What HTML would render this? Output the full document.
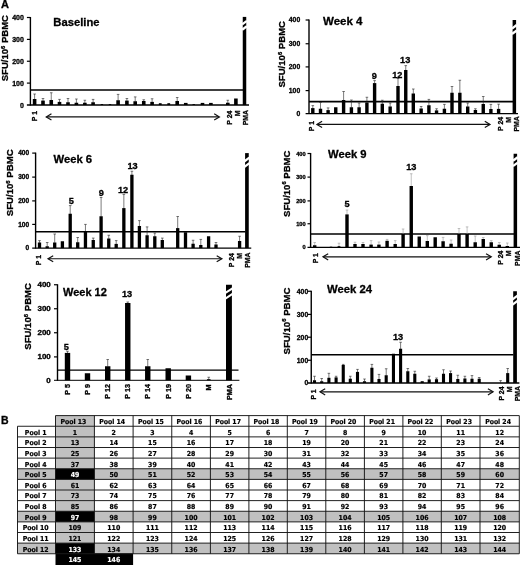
<!DOCTYPE html>
<html lang="en"><head><meta charset="utf-8"><title>Figure</title>
<style>
html,body{margin:0;padding:0;background:#fff;}
body{width:520px;height:565px;overflow:hidden;}
svg{display:block;}
text{white-space:pre;}
</style></head><body>
<svg width="520" height="565" viewBox="0 0 520 565">
<rect x="0" y="0" width="520" height="565" fill="#fff"/>
<text x="0.90" y="8.30" font-size="11" font-family='"Liberation Sans", sans-serif' font-weight="bold" fill="#000" stroke="#000" stroke-width="0.3">A</text>
<text x="1.00" y="423.80" font-size="10.5" font-family='"Liberation Sans", sans-serif' font-weight="bold" fill="#000" stroke="#000" stroke-width="0.3">B</text>
<line x1="30.40" y1="17.00" x2="30.40" y2="105.50" stroke="#000" stroke-width="1.4" />
<line x1="26.90" y1="105.00" x2="249.00" y2="105.00" stroke="#000" stroke-width="1.4" />
<line x1="26.90" y1="17.50" x2="30.40" y2="17.50" stroke="#000" stroke-width="1.2" />
<text x="23.90" y="20.02" font-size="7.0" font-family='"Liberation Sans", sans-serif' font-weight="bold" fill="#000" stroke="#000" stroke-width="0.3" text-anchor="end">400</text>
<line x1="26.90" y1="39.40" x2="30.40" y2="39.40" stroke="#000" stroke-width="1.2" />
<text x="23.90" y="41.92" font-size="7.0" font-family='"Liberation Sans", sans-serif' font-weight="bold" fill="#000" stroke="#000" stroke-width="0.3" text-anchor="end">300</text>
<line x1="26.90" y1="61.25" x2="30.40" y2="61.25" stroke="#000" stroke-width="1.2" />
<text x="23.90" y="63.77" font-size="7.0" font-family='"Liberation Sans", sans-serif' font-weight="bold" fill="#000" stroke="#000" stroke-width="0.3" text-anchor="end">200</text>
<line x1="26.90" y1="83.10" x2="30.40" y2="83.10" stroke="#000" stroke-width="1.2" />
<text x="23.90" y="85.62" font-size="7.0" font-family='"Liberation Sans", sans-serif' font-weight="bold" fill="#000" stroke="#000" stroke-width="0.3" text-anchor="end">100</text>
<text x="23.90" y="107.52" font-size="7.0" font-family='"Liberation Sans", sans-serif' font-weight="bold" fill="#000" stroke="#000" stroke-width="0.3" text-anchor="end">0</text>
<text x="7.90" y="81.25" font-size="9.8" font-family='"Liberation Sans", sans-serif' font-weight="bold" stroke="#000" stroke-width="0.3" textLength="66.25" lengthAdjust="spacingAndGlyphs" transform="rotate(-90 7.90 81.25)">SFU/10<tspan font-size="6.08" dy="-3.2">6</tspan><tspan dy="3.2"> PBMC</tspan></text>
<text x="53.30" y="26.20" font-size="11" font-family='"Liberation Sans", sans-serif' font-weight="bold" fill="#000" stroke="#000" stroke-width="0.3" textLength="46.20" lengthAdjust="spacingAndGlyphs">Baseline</text>
<line x1="30.40" y1="90.00" x2="243.00" y2="90.00" stroke="#000" stroke-width="1.6" />
<line x1="34.60" y1="94.00" x2="34.60" y2="99.30" stroke="#222" stroke-width="0.6" />
<line x1="33.30" y1="94.00" x2="35.90" y2="94.00" stroke="#222" stroke-width="0.6" />
<rect x="32.80" y="99.00" width="3.60" height="6.00" fill="#000" />
<line x1="43.00" y1="98.50" x2="43.00" y2="100.90" stroke="#222" stroke-width="0.6" />
<line x1="41.70" y1="98.50" x2="44.30" y2="98.50" stroke="#222" stroke-width="0.6" />
<rect x="41.20" y="100.60" width="3.60" height="4.40" fill="#000" />
<line x1="51.25" y1="92.75" x2="51.25" y2="100.30" stroke="#222" stroke-width="0.6" />
<line x1="49.95" y1="92.75" x2="52.55" y2="92.75" stroke="#222" stroke-width="0.6" />
<rect x="49.45" y="100.00" width="3.60" height="5.00" fill="#000" />
<line x1="59.50" y1="99.40" x2="59.50" y2="102.20" stroke="#222" stroke-width="0.6" />
<line x1="58.20" y1="99.40" x2="60.80" y2="99.40" stroke="#222" stroke-width="0.6" />
<rect x="57.70" y="101.90" width="3.60" height="3.10" fill="#000" />
<line x1="68.00" y1="98.50" x2="68.00" y2="102.55" stroke="#222" stroke-width="0.6" />
<line x1="66.70" y1="98.50" x2="69.30" y2="98.50" stroke="#222" stroke-width="0.6" />
<rect x="66.20" y="102.25" width="3.60" height="2.75" fill="#000" />
<line x1="76.40" y1="99.00" x2="76.40" y2="103.05" stroke="#222" stroke-width="0.6" />
<line x1="75.10" y1="99.00" x2="77.70" y2="99.00" stroke="#222" stroke-width="0.6" />
<rect x="74.60" y="102.75" width="3.60" height="2.25" fill="#000" />
<line x1="84.85" y1="100.25" x2="84.85" y2="103.05" stroke="#222" stroke-width="0.6" />
<line x1="83.55" y1="100.25" x2="86.15" y2="100.25" stroke="#222" stroke-width="0.6" />
<rect x="83.05" y="102.75" width="3.60" height="2.25" fill="#000" />
<line x1="93.10" y1="99.40" x2="93.10" y2="102.55" stroke="#222" stroke-width="0.6" />
<line x1="91.80" y1="99.40" x2="94.40" y2="99.40" stroke="#222" stroke-width="0.6" />
<rect x="91.30" y="102.25" width="3.60" height="2.75" fill="#000" />
<rect x="100.70" y="104.00" width="2.40" height="1.00" fill="#000" />
<rect x="108.80" y="104.10" width="2.40" height="0.90" fill="#000" />
<line x1="118.10" y1="94.40" x2="118.10" y2="100.55" stroke="#222" stroke-width="0.6" />
<line x1="116.80" y1="94.40" x2="119.40" y2="94.40" stroke="#222" stroke-width="0.6" />
<rect x="116.30" y="100.25" width="3.60" height="4.75" fill="#000" />
<line x1="126.90" y1="98.50" x2="126.90" y2="100.90" stroke="#222" stroke-width="0.6" />
<line x1="125.60" y1="98.50" x2="128.20" y2="98.50" stroke="#222" stroke-width="0.6" />
<rect x="125.10" y="100.60" width="3.60" height="4.40" fill="#000" />
<line x1="135.20" y1="96.90" x2="135.20" y2="101.55" stroke="#222" stroke-width="0.6" />
<line x1="133.90" y1="96.90" x2="136.50" y2="96.90" stroke="#222" stroke-width="0.6" />
<rect x="133.40" y="101.25" width="3.60" height="3.75" fill="#000" />
<line x1="143.75" y1="99.75" x2="143.75" y2="101.30" stroke="#222" stroke-width="0.6" />
<line x1="142.45" y1="99.75" x2="145.05" y2="99.75" stroke="#222" stroke-width="0.6" />
<rect x="141.95" y="101.00" width="3.60" height="4.00" fill="#000" />
<line x1="152.10" y1="98.75" x2="152.10" y2="102.20" stroke="#222" stroke-width="0.6" />
<line x1="150.80" y1="98.75" x2="153.40" y2="98.75" stroke="#222" stroke-width="0.6" />
<rect x="150.30" y="101.90" width="3.60" height="3.10" fill="#000" />
<rect x="158.85" y="103.20" width="2.80" height="1.80" fill="#000" />
<rect x="167.35" y="103.20" width="2.80" height="1.80" fill="#000" />
<line x1="177.20" y1="97.50" x2="177.20" y2="101.30" stroke="#222" stroke-width="0.6" />
<line x1="175.90" y1="97.50" x2="178.50" y2="97.50" stroke="#222" stroke-width="0.6" />
<rect x="175.40" y="101.00" width="3.60" height="4.00" fill="#000" />
<rect x="183.95" y="102.90" width="3.60" height="2.10" fill="#000" />
<rect x="192.55" y="104.10" width="2.40" height="0.90" fill="#000" />
<rect x="200.70" y="102.90" width="3.60" height="2.10" fill="#000" />
<rect x="209.10" y="102.90" width="3.60" height="2.10" fill="#000" />
<line x1="227.80" y1="100.25" x2="227.80" y2="103.05" stroke="#222" stroke-width="0.6" />
<line x1="226.50" y1="100.25" x2="229.10" y2="100.25" stroke="#222" stroke-width="0.6" />
<rect x="226.00" y="102.75" width="3.60" height="2.25" fill="#000" />
<rect x="234.10" y="98.50" width="3.60" height="6.50" fill="#000" />
<rect x="242.75" y="16.90" width="3.50" height="88.10" fill="#000" />
<line x1="242.15" y1="24.36" x2="246.85" y2="20.84" stroke="#fff" stroke-width="2.3" />
<line x1="242.15" y1="29.76" x2="246.85" y2="26.24" stroke="#fff" stroke-width="2.3" />
<line x1="46.65" y1="116.90" x2="219.00" y2="116.90" stroke="#111" stroke-width="1.2" />
<polyline points="51.45,113.80 46.25,116.90 51.45,120.00" fill="none" stroke="#111" stroke-width="1.2"/>
<polyline points="214.20,113.80 219.40,116.90 214.20,120.00" fill="none" stroke="#111" stroke-width="1.2"/>
<text x="36.90" y="111.00" font-size="6.9" font-family='"Liberation Sans", sans-serif' font-weight="bold" fill="#000" stroke="#000" stroke-width="0.3" text-anchor="end" transform="rotate(-90 36.90 111.00)">P 1</text>
<text x="231.90" y="110.60" font-size="6.9" font-family='"Liberation Sans", sans-serif' font-weight="bold" fill="#000" stroke="#000" stroke-width="0.3" text-anchor="end" transform="rotate(-90 231.90 110.60)">P 24</text>
<text x="239.75" y="110.60" font-size="6.9" font-family='"Liberation Sans", sans-serif' font-weight="bold" fill="#000" stroke="#000" stroke-width="0.3" text-anchor="end" transform="rotate(-90 239.75 110.60)">M</text>
<text x="248.10" y="110.00" font-size="6.9" font-family='"Liberation Sans", sans-serif' font-weight="bold" fill="#000" stroke="#000" stroke-width="0.3" text-anchor="end" transform="rotate(-90 248.10 110.00)">PMA</text>
<line x1="309.00" y1="19.50" x2="309.00" y2="114.10" stroke="#000" stroke-width="1.4" />
<line x1="305.60" y1="113.60" x2="518.00" y2="113.60" stroke="#000" stroke-width="1.4" />
<line x1="305.60" y1="20.00" x2="309.00" y2="20.00" stroke="#000" stroke-width="1.2" />
<text x="300.20" y="22.45" font-size="6.8" font-family='"Liberation Sans", sans-serif' font-weight="bold" fill="#000" stroke="#000" stroke-width="0.3" text-anchor="end">400</text>
<line x1="305.60" y1="43.75" x2="309.00" y2="43.75" stroke="#000" stroke-width="1.2" />
<text x="300.20" y="46.20" font-size="6.8" font-family='"Liberation Sans", sans-serif' font-weight="bold" fill="#000" stroke="#000" stroke-width="0.3" text-anchor="end">300</text>
<line x1="305.60" y1="66.90" x2="309.00" y2="66.90" stroke="#000" stroke-width="1.2" />
<text x="300.20" y="69.35" font-size="6.8" font-family='"Liberation Sans", sans-serif' font-weight="bold" fill="#000" stroke="#000" stroke-width="0.3" text-anchor="end">200</text>
<line x1="305.60" y1="90.60" x2="309.00" y2="90.60" stroke="#000" stroke-width="1.2" />
<text x="300.20" y="93.05" font-size="6.8" font-family='"Liberation Sans", sans-serif' font-weight="bold" fill="#000" stroke="#000" stroke-width="0.3" text-anchor="end">100</text>
<text x="300.20" y="116.05" font-size="6.8" font-family='"Liberation Sans", sans-serif' font-weight="bold" fill="#000" stroke="#000" stroke-width="0.3" text-anchor="end">0</text>
<text x="284.80" y="87.50" font-size="9.8" font-family='"Liberation Sans", sans-serif' font-weight="bold" stroke="#000" stroke-width="0.3" textLength="66.50" lengthAdjust="spacingAndGlyphs" transform="rotate(-90 284.80 87.50)">SFU/10<tspan font-size="6.08" dy="-3.2">6</tspan><tspan dy="3.2"> PBMC</tspan></text>
<text x="323.00" y="25.00" font-size="11" font-family='"Liberation Sans", sans-serif' font-weight="bold" fill="#000" stroke="#000" stroke-width="0.3" textLength="39.50" lengthAdjust="spacingAndGlyphs">Week 4</text>
<line x1="309.00" y1="101.60" x2="513.00" y2="101.60" stroke="#000" stroke-width="1.6" />
<line x1="312.80" y1="105.60" x2="312.80" y2="108.40" stroke="#222" stroke-width="0.6" />
<line x1="311.50" y1="105.60" x2="314.10" y2="105.60" stroke="#222" stroke-width="0.6" />
<rect x="311.10" y="108.10" width="3.40" height="5.50" fill="#000" />
<line x1="320.50" y1="102.50" x2="320.50" y2="109.05" stroke="#222" stroke-width="0.6" />
<line x1="319.20" y1="102.50" x2="321.80" y2="102.50" stroke="#222" stroke-width="0.6" />
<rect x="318.80" y="108.75" width="3.40" height="4.85" fill="#000" />
<line x1="328.10" y1="107.90" x2="328.10" y2="110.40" stroke="#222" stroke-width="0.6" />
<line x1="326.80" y1="107.90" x2="329.40" y2="107.90" stroke="#222" stroke-width="0.6" />
<rect x="326.40" y="110.10" width="3.40" height="3.50" fill="#000" />
<rect x="334.05" y="107.25" width="3.40" height="6.35" fill="#000" />
<line x1="343.60" y1="91.50" x2="343.60" y2="100.30" stroke="#222" stroke-width="0.6" />
<line x1="342.30" y1="91.50" x2="344.90" y2="91.50" stroke="#222" stroke-width="0.6" />
<rect x="341.90" y="100.00" width="3.40" height="13.60" fill="#000" />
<line x1="351.40" y1="100.00" x2="351.40" y2="107.55" stroke="#222" stroke-width="0.6" />
<line x1="350.10" y1="100.00" x2="352.70" y2="100.00" stroke="#222" stroke-width="0.6" />
<rect x="349.70" y="107.25" width="3.40" height="6.35" fill="#000" />
<line x1="359.10" y1="103.00" x2="359.10" y2="107.55" stroke="#222" stroke-width="0.6" />
<line x1="357.80" y1="103.00" x2="360.40" y2="103.00" stroke="#222" stroke-width="0.6" />
<rect x="357.40" y="107.25" width="3.40" height="6.35" fill="#000" />
<line x1="366.90" y1="97.25" x2="366.90" y2="102.80" stroke="#222" stroke-width="0.6" />
<line x1="365.60" y1="97.25" x2="368.20" y2="97.25" stroke="#222" stroke-width="0.6" />
<rect x="365.20" y="102.50" width="3.40" height="11.10" fill="#000" />
<line x1="374.60" y1="80.60" x2="374.60" y2="83.40" stroke="#222" stroke-width="0.6" />
<line x1="373.30" y1="80.60" x2="375.90" y2="80.60" stroke="#222" stroke-width="0.6" />
<rect x="372.90" y="83.10" width="3.40" height="30.50" fill="#000" />
<line x1="382.30" y1="100.25" x2="382.30" y2="104.05" stroke="#222" stroke-width="0.6" />
<line x1="381.00" y1="100.25" x2="383.60" y2="100.25" stroke="#222" stroke-width="0.6" />
<rect x="380.60" y="103.75" width="3.40" height="9.85" fill="#000" />
<line x1="390.15" y1="103.00" x2="390.15" y2="106.80" stroke="#222" stroke-width="0.6" />
<line x1="388.85" y1="103.00" x2="391.45" y2="103.00" stroke="#222" stroke-width="0.6" />
<rect x="388.45" y="106.50" width="3.40" height="7.10" fill="#000" />
<line x1="398.00" y1="78.50" x2="398.00" y2="86.30" stroke="#222" stroke-width="0.6" />
<line x1="396.70" y1="78.50" x2="399.30" y2="78.50" stroke="#222" stroke-width="0.6" />
<rect x="396.30" y="86.00" width="3.40" height="27.60" fill="#000" />
<line x1="405.75" y1="65.60" x2="405.75" y2="70.30" stroke="#222" stroke-width="0.6" />
<line x1="404.45" y1="65.60" x2="407.05" y2="65.60" stroke="#222" stroke-width="0.6" />
<rect x="404.05" y="70.00" width="3.40" height="43.60" fill="#000" />
<line x1="413.30" y1="89.00" x2="413.30" y2="93.80" stroke="#222" stroke-width="0.6" />
<line x1="412.00" y1="89.00" x2="414.60" y2="89.00" stroke="#222" stroke-width="0.6" />
<rect x="411.60" y="93.50" width="3.40" height="20.10" fill="#000" />
<line x1="421.15" y1="106.50" x2="421.15" y2="108.80" stroke="#222" stroke-width="0.6" />
<line x1="419.85" y1="106.50" x2="422.45" y2="106.50" stroke="#222" stroke-width="0.6" />
<rect x="419.45" y="108.50" width="3.40" height="5.10" fill="#000" />
<line x1="428.90" y1="99.40" x2="428.90" y2="105.55" stroke="#222" stroke-width="0.6" />
<line x1="427.60" y1="99.40" x2="430.20" y2="99.40" stroke="#222" stroke-width="0.6" />
<rect x="427.20" y="105.25" width="3.40" height="8.35" fill="#000" />
<line x1="436.55" y1="108.75" x2="436.55" y2="110.70" stroke="#222" stroke-width="0.6" />
<line x1="435.25" y1="108.75" x2="437.85" y2="108.75" stroke="#222" stroke-width="0.6" />
<rect x="434.85" y="110.40" width="3.40" height="3.20" fill="#000" />
<line x1="444.40" y1="104.40" x2="444.40" y2="109.05" stroke="#222" stroke-width="0.6" />
<line x1="443.10" y1="104.40" x2="445.70" y2="104.40" stroke="#222" stroke-width="0.6" />
<rect x="442.70" y="108.75" width="3.40" height="4.85" fill="#000" />
<line x1="452.00" y1="86.50" x2="452.00" y2="93.05" stroke="#222" stroke-width="0.6" />
<line x1="450.70" y1="86.50" x2="453.30" y2="86.50" stroke="#222" stroke-width="0.6" />
<rect x="450.30" y="92.75" width="3.40" height="20.85" fill="#000" />
<line x1="459.85" y1="80.25" x2="459.85" y2="93.05" stroke="#222" stroke-width="0.6" />
<line x1="458.55" y1="80.25" x2="461.15" y2="80.25" stroke="#222" stroke-width="0.6" />
<rect x="458.15" y="92.75" width="3.40" height="20.85" fill="#000" />
<line x1="467.70" y1="103.00" x2="467.70" y2="106.80" stroke="#222" stroke-width="0.6" />
<line x1="466.40" y1="103.00" x2="469.00" y2="103.00" stroke="#222" stroke-width="0.6" />
<rect x="466.00" y="106.50" width="3.40" height="7.10" fill="#000" />
<line x1="475.40" y1="108.75" x2="475.40" y2="110.30" stroke="#222" stroke-width="0.6" />
<line x1="474.10" y1="108.75" x2="476.70" y2="108.75" stroke="#222" stroke-width="0.6" />
<rect x="473.70" y="110.00" width="3.40" height="3.60" fill="#000" />
<line x1="483.25" y1="96.50" x2="483.25" y2="104.30" stroke="#222" stroke-width="0.6" />
<line x1="481.95" y1="96.50" x2="484.55" y2="96.50" stroke="#222" stroke-width="0.6" />
<rect x="481.55" y="104.00" width="3.40" height="9.60" fill="#000" />
<line x1="490.90" y1="104.40" x2="490.90" y2="109.30" stroke="#222" stroke-width="0.6" />
<line x1="489.60" y1="104.40" x2="492.20" y2="104.40" stroke="#222" stroke-width="0.6" />
<rect x="489.20" y="109.00" width="3.40" height="4.60" fill="#000" />
<line x1="498.60" y1="104.20" x2="498.60" y2="109.20" stroke="#222" stroke-width="0.6" />
<line x1="497.30" y1="104.20" x2="499.90" y2="104.20" stroke="#222" stroke-width="0.6" />
<rect x="496.90" y="108.90" width="3.40" height="4.70" fill="#000" />
<rect x="512.60" y="20.00" width="3.50" height="93.60" fill="#000" />
<line x1="512.00" y1="28.56" x2="516.70" y2="25.04" stroke="#fff" stroke-width="2.3" />
<line x1="512.00" y1="34.01" x2="516.70" y2="30.49" stroke="#fff" stroke-width="2.3" />
<line x1="317.30" y1="124.40" x2="489.60" y2="124.40" stroke="#111" stroke-width="1.2" />
<polyline points="322.10,121.30 316.90,124.40 322.10,127.50" fill="none" stroke="#111" stroke-width="1.2"/>
<polyline points="484.80,121.30 490.00,124.40 484.80,127.50" fill="none" stroke="#111" stroke-width="1.2"/>
<text x="374.30" y="79.40" font-size="9.2" font-family='"Liberation Sans", sans-serif' font-weight="bold" fill="#000" stroke="#000" stroke-width="0.3" text-anchor="middle">9</text>
<text x="397.30" y="77.60" font-size="9.2" font-family='"Liberation Sans", sans-serif' font-weight="bold" fill="#000" stroke="#000" stroke-width="0.3" text-anchor="middle">12</text>
<text x="405.20" y="62.80" font-size="9.2" font-family='"Liberation Sans", sans-serif' font-weight="bold" fill="#000" stroke="#000" stroke-width="0.3" text-anchor="middle">13</text>
<text x="314.40" y="121.00" font-size="6.9" font-family='"Liberation Sans", sans-serif' font-weight="bold" fill="#000" stroke="#000" stroke-width="0.3" text-anchor="end" transform="rotate(-90 314.40 121.00)">P 1</text>
<text x="503.10" y="116.90" font-size="6.9" font-family='"Liberation Sans", sans-serif' font-weight="bold" fill="#000" stroke="#000" stroke-width="0.3" text-anchor="end" transform="rotate(-90 503.10 116.90)">P 24</text>
<text x="511.20" y="116.90" font-size="6.9" font-family='"Liberation Sans", sans-serif' font-weight="bold" fill="#000" stroke="#000" stroke-width="0.3" text-anchor="end" transform="rotate(-90 511.20 116.90)">M</text>
<text x="519.40" y="116.25" font-size="6.9" font-family='"Liberation Sans", sans-serif' font-weight="bold" fill="#000" stroke="#000" stroke-width="0.3" text-anchor="end" transform="rotate(-90 519.40 116.25)">PMA</text>
<line x1="35.60" y1="152.60" x2="35.60" y2="248.60" stroke="#000" stroke-width="1.4" />
<line x1="32.20" y1="248.10" x2="251.25" y2="248.10" stroke="#000" stroke-width="1.4" />
<line x1="32.20" y1="153.10" x2="35.60" y2="153.10" stroke="#000" stroke-width="1.2" />
<text x="29.20" y="155.48" font-size="6.6" font-family='"Liberation Sans", sans-serif' font-weight="bold" fill="#000" stroke="#000" stroke-width="0.3" text-anchor="end">400</text>
<line x1="32.20" y1="177.10" x2="35.60" y2="177.10" stroke="#000" stroke-width="1.2" />
<text x="29.20" y="179.48" font-size="6.6" font-family='"Liberation Sans", sans-serif' font-weight="bold" fill="#000" stroke="#000" stroke-width="0.3" text-anchor="end">300</text>
<line x1="32.20" y1="200.90" x2="35.60" y2="200.90" stroke="#000" stroke-width="1.2" />
<text x="29.20" y="203.28" font-size="6.6" font-family='"Liberation Sans", sans-serif' font-weight="bold" fill="#000" stroke="#000" stroke-width="0.3" text-anchor="end">200</text>
<line x1="32.20" y1="224.40" x2="35.60" y2="224.40" stroke="#000" stroke-width="1.2" />
<text x="29.20" y="226.78" font-size="6.6" font-family='"Liberation Sans", sans-serif' font-weight="bold" fill="#000" stroke="#000" stroke-width="0.3" text-anchor="end">100</text>
<text x="29.20" y="250.48" font-size="6.6" font-family='"Liberation Sans", sans-serif' font-weight="bold" fill="#000" stroke="#000" stroke-width="0.3" text-anchor="end">0</text>
<text x="13.00" y="216.25" font-size="9.8" font-family='"Liberation Sans", sans-serif' font-weight="bold" stroke="#000" stroke-width="0.3" textLength="66.85" lengthAdjust="spacingAndGlyphs" transform="rotate(-90 13.00 216.25)">SFU/10<tspan font-size="6.08" dy="-3.2">6</tspan><tspan dy="3.2"> PBMC</tspan></text>
<text x="53.50" y="163.40" font-size="11" font-family='"Liberation Sans", sans-serif' font-weight="bold" fill="#000" stroke="#000" stroke-width="0.3" textLength="38.60" lengthAdjust="spacingAndGlyphs">Week 6</text>
<line x1="35.60" y1="231.80" x2="245.50" y2="231.80" stroke="#000" stroke-width="1.6" />
<line x1="39.50" y1="240.60" x2="39.50" y2="242.80" stroke="#222" stroke-width="0.6" />
<line x1="38.20" y1="240.60" x2="40.80" y2="240.60" stroke="#222" stroke-width="0.6" />
<rect x="37.85" y="242.50" width="3.30" height="5.60" fill="#000" />
<line x1="47.20" y1="242.50" x2="47.20" y2="246.55" stroke="#222" stroke-width="0.6" />
<line x1="45.90" y1="242.50" x2="48.50" y2="242.50" stroke="#222" stroke-width="0.6" />
<rect x="45.55" y="246.25" width="3.30" height="1.85" fill="#000" />
<line x1="54.70" y1="234.00" x2="54.70" y2="242.80" stroke="#222" stroke-width="0.6" />
<line x1="53.40" y1="234.00" x2="56.00" y2="234.00" stroke="#222" stroke-width="0.6" />
<rect x="53.05" y="242.50" width="3.30" height="5.60" fill="#000" />
<rect x="60.75" y="241.25" width="3.30" height="6.85" fill="#000" />
<line x1="70.20" y1="205.60" x2="70.20" y2="214.05" stroke="#222" stroke-width="0.6" />
<line x1="68.90" y1="205.60" x2="71.50" y2="205.60" stroke="#222" stroke-width="0.6" />
<rect x="68.55" y="213.75" width="3.30" height="34.35" fill="#000" />
<line x1="77.70" y1="237.50" x2="77.70" y2="242.55" stroke="#222" stroke-width="0.6" />
<line x1="76.40" y1="237.50" x2="79.00" y2="237.50" stroke="#222" stroke-width="0.6" />
<rect x="76.05" y="242.25" width="3.30" height="5.85" fill="#000" />
<line x1="85.45" y1="224.40" x2="85.45" y2="231.55" stroke="#222" stroke-width="0.6" />
<line x1="84.15" y1="224.40" x2="86.75" y2="224.40" stroke="#222" stroke-width="0.6" />
<rect x="83.80" y="231.25" width="3.30" height="16.85" fill="#000" />
<line x1="93.25" y1="238.10" x2="93.25" y2="240.30" stroke="#222" stroke-width="0.6" />
<line x1="91.95" y1="238.10" x2="94.55" y2="238.10" stroke="#222" stroke-width="0.6" />
<rect x="91.60" y="240.00" width="3.30" height="8.10" fill="#000" />
<line x1="101.10" y1="197.50" x2="101.10" y2="216.55" stroke="#222" stroke-width="0.6" />
<line x1="99.80" y1="197.50" x2="102.40" y2="197.50" stroke="#222" stroke-width="0.6" />
<rect x="99.45" y="216.25" width="3.30" height="31.85" fill="#000" />
<line x1="108.75" y1="235.25" x2="108.75" y2="238.80" stroke="#222" stroke-width="0.6" />
<line x1="107.45" y1="235.25" x2="110.05" y2="235.25" stroke="#222" stroke-width="0.6" />
<rect x="107.10" y="238.50" width="3.30" height="9.60" fill="#000" />
<line x1="116.20" y1="240.60" x2="116.20" y2="244.20" stroke="#222" stroke-width="0.6" />
<line x1="114.90" y1="240.60" x2="117.50" y2="240.60" stroke="#222" stroke-width="0.6" />
<rect x="114.55" y="243.90" width="3.30" height="4.20" fill="#000" />
<line x1="123.85" y1="194.40" x2="123.85" y2="208.40" stroke="#222" stroke-width="0.6" />
<line x1="122.55" y1="194.40" x2="125.15" y2="194.40" stroke="#222" stroke-width="0.6" />
<rect x="122.20" y="208.10" width="3.30" height="40.00" fill="#000" />
<line x1="131.90" y1="171.25" x2="131.90" y2="175.05" stroke="#222" stroke-width="0.6" />
<line x1="130.60" y1="171.25" x2="133.20" y2="171.25" stroke="#222" stroke-width="0.6" />
<rect x="130.25" y="174.75" width="3.30" height="73.35" fill="#000" />
<line x1="139.40" y1="220.60" x2="139.40" y2="226.30" stroke="#222" stroke-width="0.6" />
<line x1="138.10" y1="220.60" x2="140.70" y2="220.60" stroke="#222" stroke-width="0.6" />
<rect x="137.75" y="226.00" width="3.30" height="22.10" fill="#000" />
<line x1="147.10" y1="226.90" x2="147.10" y2="235.55" stroke="#222" stroke-width="0.6" />
<line x1="145.80" y1="226.90" x2="148.40" y2="226.90" stroke="#222" stroke-width="0.6" />
<rect x="145.45" y="235.25" width="3.30" height="12.85" fill="#000" />
<line x1="154.80" y1="233.10" x2="154.80" y2="236.55" stroke="#222" stroke-width="0.6" />
<line x1="153.50" y1="233.10" x2="156.10" y2="233.10" stroke="#222" stroke-width="0.6" />
<rect x="153.15" y="236.25" width="3.30" height="11.85" fill="#000" />
<line x1="162.30" y1="238.10" x2="162.30" y2="240.30" stroke="#222" stroke-width="0.6" />
<line x1="161.00" y1="238.10" x2="163.60" y2="238.10" stroke="#222" stroke-width="0.6" />
<rect x="160.65" y="240.00" width="3.30" height="8.10" fill="#000" />
<line x1="177.70" y1="216.50" x2="177.70" y2="228.40" stroke="#222" stroke-width="0.6" />
<line x1="176.40" y1="216.50" x2="179.00" y2="216.50" stroke="#222" stroke-width="0.6" />
<rect x="176.05" y="228.10" width="3.30" height="20.00" fill="#000" />
<rect x="183.85" y="232.25" width="3.30" height="15.85" fill="#000" />
<line x1="193.10" y1="240.25" x2="193.10" y2="244.05" stroke="#222" stroke-width="0.6" />
<line x1="191.80" y1="240.25" x2="194.40" y2="240.25" stroke="#222" stroke-width="0.6" />
<rect x="191.45" y="243.75" width="3.30" height="4.35" fill="#000" />
<line x1="200.80" y1="239.40" x2="200.80" y2="245.30" stroke="#222" stroke-width="0.6" />
<line x1="199.50" y1="239.40" x2="202.10" y2="239.40" stroke="#222" stroke-width="0.6" />
<rect x="199.15" y="245.00" width="3.30" height="3.10" fill="#000" />
<rect x="206.95" y="236.25" width="3.30" height="11.85" fill="#000" />
<line x1="216.00" y1="242.50" x2="216.00" y2="244.80" stroke="#222" stroke-width="0.6" />
<line x1="214.70" y1="242.50" x2="217.30" y2="242.50" stroke="#222" stroke-width="0.6" />
<rect x="214.35" y="244.50" width="3.30" height="3.60" fill="#000" />
<line x1="239.60" y1="236.25" x2="239.60" y2="241.30" stroke="#222" stroke-width="0.6" />
<line x1="238.30" y1="236.25" x2="240.90" y2="236.25" stroke="#222" stroke-width="0.6" />
<rect x="237.95" y="241.00" width="3.30" height="7.10" fill="#000" />
<rect x="245.10" y="153.10" width="3.65" height="95.00" fill="#000" />
<line x1="244.50" y1="161.22" x2="249.35" y2="157.58" stroke="#fff" stroke-width="2.3" />
<line x1="244.50" y1="166.82" x2="249.35" y2="163.18" stroke="#fff" stroke-width="2.3" />
<line x1="48.40" y1="258.75" x2="221.50" y2="258.75" stroke="#111" stroke-width="1.2" />
<polyline points="53.20,255.65 48.00,258.75 53.20,261.85" fill="none" stroke="#111" stroke-width="1.2"/>
<polyline points="216.70,255.65 221.90,258.75 216.70,261.85" fill="none" stroke="#111" stroke-width="1.2"/>
<text x="71.25" y="203.80" font-size="9.2" font-family='"Liberation Sans", sans-serif' font-weight="bold" fill="#000" stroke="#000" stroke-width="0.3" text-anchor="middle">5</text>
<text x="101.25" y="196.00" font-size="9.2" font-family='"Liberation Sans", sans-serif' font-weight="bold" fill="#000" stroke="#000" stroke-width="0.3" text-anchor="middle">9</text>
<text x="123.10" y="193.10" font-size="9.2" font-family='"Liberation Sans", sans-serif' font-weight="bold" fill="#000" stroke="#000" stroke-width="0.3" text-anchor="middle">12</text>
<text x="132.50" y="168.50" font-size="9.2" font-family='"Liberation Sans", sans-serif' font-weight="bold" fill="#000" stroke="#000" stroke-width="0.3" text-anchor="middle">13</text>
<text x="41.25" y="255.00" font-size="6.9" font-family='"Liberation Sans", sans-serif' font-weight="bold" fill="#000" stroke="#000" stroke-width="0.3" text-anchor="end" transform="rotate(-90 41.25 255.00)">P 1</text>
<text x="234.40" y="253.10" font-size="6.9" font-family='"Liberation Sans", sans-serif' font-weight="bold" fill="#000" stroke="#000" stroke-width="0.3" text-anchor="end" transform="rotate(-90 234.40 253.10)">P 24</text>
<text x="241.90" y="253.10" font-size="6.9" font-family='"Liberation Sans", sans-serif' font-weight="bold" fill="#000" stroke="#000" stroke-width="0.3" text-anchor="end" transform="rotate(-90 241.90 253.10)">M</text>
<text x="250.20" y="252.50" font-size="6.9" font-family='"Liberation Sans", sans-serif' font-weight="bold" fill="#000" stroke="#000" stroke-width="0.3" text-anchor="end" transform="rotate(-90 250.20 252.50)">PMA</text>
<line x1="310.60" y1="153.00" x2="310.60" y2="247.90" stroke="#000" stroke-width="1.4" />
<line x1="307.50" y1="247.40" x2="520.00" y2="247.40" stroke="#000" stroke-width="1.4" />
<line x1="307.50" y1="153.50" x2="310.60" y2="153.50" stroke="#000" stroke-width="1.2" />
<text x="305.70" y="155.55" font-size="5.7" font-family='"Liberation Sans", sans-serif' font-weight="bold" fill="#000" stroke="#000" stroke-width="0.3" text-anchor="end">400</text>
<line x1="307.50" y1="177.10" x2="310.60" y2="177.10" stroke="#000" stroke-width="1.2" />
<text x="305.70" y="179.15" font-size="5.7" font-family='"Liberation Sans", sans-serif' font-weight="bold" fill="#000" stroke="#000" stroke-width="0.3" text-anchor="end">300</text>
<line x1="307.50" y1="200.90" x2="310.60" y2="200.90" stroke="#000" stroke-width="1.2" />
<text x="305.70" y="202.95" font-size="5.7" font-family='"Liberation Sans", sans-serif' font-weight="bold" fill="#000" stroke="#000" stroke-width="0.3" text-anchor="end">200</text>
<line x1="307.50" y1="223.75" x2="310.60" y2="223.75" stroke="#000" stroke-width="1.2" />
<text x="305.70" y="225.80" font-size="5.7" font-family='"Liberation Sans", sans-serif' font-weight="bold" fill="#000" stroke="#000" stroke-width="0.3" text-anchor="end">100</text>
<text x="305.70" y="249.45" font-size="5.7" font-family='"Liberation Sans", sans-serif' font-weight="bold" fill="#000" stroke="#000" stroke-width="0.3" text-anchor="end">0</text>
<text x="289.70" y="216.90" font-size="9.8" font-family='"Liberation Sans", sans-serif' font-weight="bold" stroke="#000" stroke-width="0.3" textLength="66.30" lengthAdjust="spacingAndGlyphs" transform="rotate(-90 289.70 216.90)">SFU/10<tspan font-size="6.08" dy="-3.2">6</tspan><tspan dy="3.2"> PBMC</tspan></text>
<text x="328.00" y="157.70" font-size="11" font-family='"Liberation Sans", sans-serif' font-weight="bold" fill="#000" stroke="#000" stroke-width="0.3" textLength="38.50" lengthAdjust="spacingAndGlyphs">Week 9</text>
<line x1="310.60" y1="234.00" x2="514.00" y2="234.00" stroke="#000" stroke-width="1.6" />
<line x1="314.70" y1="242.50" x2="314.70" y2="245.55" stroke="#999" stroke-width="0.6" />
<line x1="313.40" y1="242.50" x2="316.00" y2="242.50" stroke="#999" stroke-width="0.6" />
<rect x="313.00" y="245.25" width="3.40" height="2.15" fill="#000" />
<rect x="329.80" y="246.70" width="2.40" height="0.70" fill="#000" />
<line x1="339.00" y1="243.20" x2="339.00" y2="246.50" stroke="#999" stroke-width="0.6" />
<line x1="337.70" y1="243.20" x2="340.30" y2="243.20" stroke="#999" stroke-width="0.6" />
<rect x="337.60" y="246.20" width="2.80" height="1.20" fill="#000" />
<line x1="347.00" y1="210.00" x2="347.00" y2="214.70" stroke="#999" stroke-width="0.6" />
<line x1="345.70" y1="210.00" x2="348.30" y2="210.00" stroke="#999" stroke-width="0.6" />
<rect x="345.30" y="214.40" width="3.40" height="33.00" fill="#000" />
<line x1="355.00" y1="242.25" x2="355.00" y2="244.30" stroke="#999" stroke-width="0.6" />
<line x1="353.70" y1="242.25" x2="356.30" y2="242.25" stroke="#999" stroke-width="0.6" />
<rect x="353.30" y="244.00" width="3.40" height="3.40" fill="#000" />
<line x1="363.00" y1="242.50" x2="363.00" y2="244.30" stroke="#999" stroke-width="0.6" />
<line x1="361.70" y1="242.50" x2="364.30" y2="242.50" stroke="#999" stroke-width="0.6" />
<rect x="361.30" y="244.00" width="3.40" height="3.40" fill="#000" />
<line x1="371.10" y1="240.60" x2="371.10" y2="244.90" stroke="#999" stroke-width="0.6" />
<line x1="369.80" y1="240.60" x2="372.40" y2="240.60" stroke="#999" stroke-width="0.6" />
<rect x="369.40" y="244.60" width="3.40" height="2.80" fill="#000" />
<line x1="378.90" y1="242.00" x2="378.90" y2="244.90" stroke="#999" stroke-width="0.6" />
<line x1="377.60" y1="242.00" x2="380.20" y2="242.00" stroke="#999" stroke-width="0.6" />
<rect x="377.20" y="244.60" width="3.40" height="2.80" fill="#000" />
<line x1="387.10" y1="239.40" x2="387.10" y2="241.10" stroke="#999" stroke-width="0.6" />
<line x1="385.80" y1="239.40" x2="388.40" y2="239.40" stroke="#999" stroke-width="0.6" />
<rect x="385.40" y="240.80" width="3.40" height="6.60" fill="#000" />
<line x1="395.20" y1="240.60" x2="395.20" y2="244.30" stroke="#999" stroke-width="0.6" />
<line x1="393.90" y1="240.60" x2="396.50" y2="240.60" stroke="#999" stroke-width="0.6" />
<rect x="393.50" y="244.00" width="3.40" height="3.40" fill="#000" />
<line x1="403.10" y1="229.00" x2="403.10" y2="234.30" stroke="#999" stroke-width="0.6" />
<line x1="401.80" y1="229.00" x2="404.40" y2="229.00" stroke="#999" stroke-width="0.6" />
<rect x="401.40" y="234.00" width="3.40" height="13.40" fill="#000" />
<line x1="411.25" y1="173.75" x2="411.25" y2="186.30" stroke="#999" stroke-width="0.6" />
<line x1="409.95" y1="173.75" x2="412.55" y2="173.75" stroke="#999" stroke-width="0.6" />
<rect x="409.55" y="186.00" width="3.40" height="61.40" fill="#000" />
<rect x="417.55" y="236.50" width="3.40" height="10.90" fill="#000" />
<line x1="427.30" y1="235.60" x2="427.30" y2="241.30" stroke="#999" stroke-width="0.6" />
<line x1="426.00" y1="235.60" x2="428.60" y2="235.60" stroke="#999" stroke-width="0.6" />
<rect x="425.60" y="241.00" width="3.40" height="6.40" fill="#000" />
<rect x="433.50" y="237.25" width="3.40" height="10.15" fill="#000" />
<line x1="443.10" y1="237.40" x2="443.10" y2="241.55" stroke="#999" stroke-width="0.6" />
<line x1="441.80" y1="237.40" x2="444.40" y2="237.40" stroke="#999" stroke-width="0.6" />
<rect x="441.40" y="241.25" width="3.40" height="6.15" fill="#000" />
<line x1="451.10" y1="240.00" x2="451.10" y2="244.05" stroke="#999" stroke-width="0.6" />
<line x1="449.80" y1="240.00" x2="452.40" y2="240.00" stroke="#999" stroke-width="0.6" />
<rect x="449.40" y="243.75" width="3.40" height="3.65" fill="#000" />
<line x1="459.00" y1="228.50" x2="459.00" y2="234.30" stroke="#999" stroke-width="0.6" />
<line x1="457.70" y1="228.50" x2="460.30" y2="228.50" stroke="#999" stroke-width="0.6" />
<rect x="457.30" y="234.00" width="3.40" height="13.40" fill="#000" />
<line x1="467.10" y1="226.90" x2="467.10" y2="234.30" stroke="#999" stroke-width="0.6" />
<line x1="465.80" y1="226.90" x2="468.40" y2="226.90" stroke="#999" stroke-width="0.6" />
<rect x="465.40" y="234.00" width="3.40" height="13.40" fill="#000" />
<line x1="475.20" y1="236.00" x2="475.20" y2="242.55" stroke="#999" stroke-width="0.6" />
<line x1="473.90" y1="236.00" x2="476.50" y2="236.00" stroke="#999" stroke-width="0.6" />
<rect x="473.50" y="242.25" width="3.40" height="5.15" fill="#000" />
<line x1="483.25" y1="237.50" x2="483.25" y2="239.30" stroke="#999" stroke-width="0.6" />
<line x1="481.95" y1="237.50" x2="484.55" y2="237.50" stroke="#999" stroke-width="0.6" />
<rect x="481.55" y="239.00" width="3.40" height="8.40" fill="#000" />
<line x1="491.25" y1="240.60" x2="491.25" y2="242.55" stroke="#999" stroke-width="0.6" />
<line x1="489.95" y1="240.60" x2="492.55" y2="240.60" stroke="#999" stroke-width="0.6" />
<rect x="489.55" y="242.25" width="3.40" height="5.15" fill="#000" />
<line x1="499.25" y1="242.50" x2="499.25" y2="245.05" stroke="#999" stroke-width="0.6" />
<line x1="497.95" y1="242.50" x2="500.55" y2="242.50" stroke="#999" stroke-width="0.6" />
<rect x="497.55" y="244.75" width="3.40" height="2.65" fill="#000" />
<line x1="507.30" y1="243.00" x2="507.30" y2="246.30" stroke="#999" stroke-width="0.6" />
<line x1="506.00" y1="243.00" x2="508.60" y2="243.00" stroke="#999" stroke-width="0.6" />
<rect x="505.60" y="246.00" width="3.40" height="1.40" fill="#000" />
<rect x="513.60" y="153.75" width="3.50" height="93.65" fill="#000" />
<line x1="513.00" y1="160.76" x2="517.70" y2="157.24" stroke="#fff" stroke-width="2.3" />
<line x1="513.00" y1="166.16" x2="517.70" y2="162.64" stroke="#fff" stroke-width="2.3" />
<line x1="323.40" y1="256.80" x2="490.85" y2="256.80" stroke="#111" stroke-width="1.2" />
<polyline points="328.20,253.70 323.00,256.80 328.20,259.90" fill="none" stroke="#111" stroke-width="1.2"/>
<polyline points="486.05,253.70 491.25,256.80 486.05,259.90" fill="none" stroke="#111" stroke-width="1.2"/>
<text x="347.10" y="206.90" font-size="9.2" font-family='"Liberation Sans", sans-serif' font-weight="bold" fill="#000" stroke="#000" stroke-width="0.3" text-anchor="middle">5</text>
<text x="411.25" y="170.00" font-size="9.2" font-family='"Liberation Sans", sans-serif' font-weight="bold" fill="#000" stroke="#000" stroke-width="0.3" text-anchor="middle">13</text>
<text x="318.10" y="253.10" font-size="6.9" font-family='"Liberation Sans", sans-serif' font-weight="bold" fill="#000" stroke="#000" stroke-width="0.3" text-anchor="end" transform="rotate(-90 318.10 253.10)">P 1</text>
<text x="503.50" y="250.60" font-size="6.9" font-family='"Liberation Sans", sans-serif' font-weight="bold" fill="#000" stroke="#000" stroke-width="0.3" text-anchor="end" transform="rotate(-90 503.50 250.60)">P 24</text>
<text x="511.50" y="250.60" font-size="6.9" font-family='"Liberation Sans", sans-serif' font-weight="bold" fill="#000" stroke="#000" stroke-width="0.3" text-anchor="end" transform="rotate(-90 511.50 250.60)">M</text>
<text x="519.60" y="250.60" font-size="6.9" font-family='"Liberation Sans", sans-serif' font-weight="bold" fill="#000" stroke="#000" stroke-width="0.3" text-anchor="end" transform="rotate(-90 519.60 250.60)">PMA</text>
<line x1="57.50" y1="284.25" x2="57.50" y2="380.80" stroke="#000" stroke-width="1.4" />
<line x1="54.00" y1="380.30" x2="239.40" y2="380.30" stroke="#000" stroke-width="1.0" />
<line x1="54.00" y1="284.75" x2="57.50" y2="284.75" stroke="#000" stroke-width="1.2" />
<text x="50.80" y="287.13" font-size="6.6" font-family='"Liberation Sans", sans-serif' font-weight="bold" fill="#000" stroke="#000" stroke-width="0.3" text-anchor="end" textLength="13.30" lengthAdjust="spacingAndGlyphs">400</text>
<line x1="54.00" y1="308.75" x2="57.50" y2="308.75" stroke="#000" stroke-width="1.2" />
<text x="50.80" y="311.13" font-size="6.6" font-family='"Liberation Sans", sans-serif' font-weight="bold" fill="#000" stroke="#000" stroke-width="0.3" text-anchor="end" textLength="13.30" lengthAdjust="spacingAndGlyphs">300</text>
<line x1="54.00" y1="332.75" x2="57.50" y2="332.75" stroke="#000" stroke-width="1.2" />
<text x="50.80" y="335.13" font-size="6.6" font-family='"Liberation Sans", sans-serif' font-weight="bold" fill="#000" stroke="#000" stroke-width="0.3" text-anchor="end" textLength="13.30" lengthAdjust="spacingAndGlyphs">200</text>
<line x1="54.00" y1="356.90" x2="57.50" y2="356.90" stroke="#000" stroke-width="1.2" />
<text x="50.80" y="359.28" font-size="6.6" font-family='"Liberation Sans", sans-serif' font-weight="bold" fill="#000" stroke="#000" stroke-width="0.3" text-anchor="end" textLength="13.30" lengthAdjust="spacingAndGlyphs">100</text>
<text x="50.80" y="382.68" font-size="6.6" font-family='"Liberation Sans", sans-serif' font-weight="bold" fill="#000" stroke="#000" stroke-width="0.3" text-anchor="end" textLength="4.43" lengthAdjust="spacingAndGlyphs">0</text>
<text x="31.30" y="349.75" font-size="9.8" font-family='"Liberation Sans", sans-serif' font-weight="bold" stroke="#000" stroke-width="0.3" textLength="66.75" lengthAdjust="spacingAndGlyphs" transform="rotate(-90 31.30 349.75)">SFU/10<tspan font-size="6.08" dy="-3.2">6</tspan><tspan dy="3.2"> PBMC</tspan></text>
<text x="63.00" y="295.60" font-size="11" font-family='"Liberation Sans", sans-serif' font-weight="bold" fill="#000" stroke="#000" stroke-width="0.3" textLength="43.80" lengthAdjust="spacingAndGlyphs">Week 12</text>
<line x1="57.50" y1="370.10" x2="238.50" y2="370.10" stroke="#000" stroke-width="1.3" />
<line x1="67.50" y1="351.25" x2="67.50" y2="353.20" stroke="#222" stroke-width="0.6" />
<line x1="66.20" y1="351.25" x2="68.80" y2="351.25" stroke="#222" stroke-width="0.6" />
<rect x="64.80" y="352.90" width="5.40" height="27.40" fill="#000" />
<rect x="84.80" y="373.25" width="5.40" height="7.05" fill="#000" />
<line x1="107.70" y1="359.50" x2="107.70" y2="366.55" stroke="#222" stroke-width="0.6" />
<line x1="106.40" y1="359.50" x2="109.00" y2="359.50" stroke="#222" stroke-width="0.6" />
<rect x="105.00" y="366.25" width="5.40" height="14.05" fill="#000" />
<line x1="127.75" y1="302.00" x2="127.75" y2="303.30" stroke="#222" stroke-width="0.6" />
<line x1="126.45" y1="302.00" x2="129.05" y2="302.00" stroke="#222" stroke-width="0.6" />
<rect x="125.05" y="303.00" width="5.40" height="77.30" fill="#000" />
<line x1="147.75" y1="359.50" x2="147.75" y2="366.55" stroke="#222" stroke-width="0.6" />
<line x1="146.45" y1="359.50" x2="149.05" y2="359.50" stroke="#222" stroke-width="0.6" />
<rect x="145.05" y="366.25" width="5.40" height="14.05" fill="#000" />
<rect x="165.50" y="368.25" width="5.40" height="12.05" fill="#000" />
<rect x="185.70" y="375.50" width="5.40" height="4.80" fill="#000" />
<line x1="208.75" y1="377.25" x2="208.75" y2="379.50" stroke="#222" stroke-width="0.6" />
<line x1="207.45" y1="377.25" x2="210.05" y2="377.25" stroke="#222" stroke-width="0.6" />
<rect x="206.95" y="379.20" width="3.60" height="1.10" fill="#000" />
<rect x="226.00" y="284.75" width="5.90" height="95.55" fill="#000" />
<line x1="225.40" y1="292.87" x2="232.50" y2="288.33" stroke="#fff" stroke-width="2.1" />
<line x1="225.40" y1="298.52" x2="232.50" y2="293.98" stroke="#fff" stroke-width="2.1" />
<text x="66.40" y="349.75" font-size="9.2" font-family='"Liberation Sans", sans-serif' font-weight="bold" fill="#000" stroke="#000" stroke-width="0.3" text-anchor="middle">5</text>
<text x="127.00" y="297.00" font-size="9.2" font-family='"Liberation Sans", sans-serif' font-weight="bold" fill="#000" stroke="#000" stroke-width="0.3" text-anchor="middle">13</text>
<text x="70.00" y="384.00" font-size="7.2" font-family='"Liberation Sans", sans-serif' font-weight="bold" fill="#000" stroke="#000" stroke-width="0.3" text-anchor="end" transform="rotate(-90 70.00 384.00)">P 5</text>
<text x="90.00" y="384.00" font-size="7.2" font-family='"Liberation Sans", sans-serif' font-weight="bold" fill="#000" stroke="#000" stroke-width="0.3" text-anchor="end" transform="rotate(-90 90.00 384.00)">P 9</text>
<text x="110.40" y="384.00" font-size="7.2" font-family='"Liberation Sans", sans-serif' font-weight="bold" fill="#000" stroke="#000" stroke-width="0.3" text-anchor="end" transform="rotate(-90 110.40 384.00)">P 12</text>
<text x="130.40" y="384.00" font-size="7.2" font-family='"Liberation Sans", sans-serif' font-weight="bold" fill="#000" stroke="#000" stroke-width="0.3" text-anchor="end" transform="rotate(-90 130.40 384.00)">P 13</text>
<text x="150.40" y="384.00" font-size="7.2" font-family='"Liberation Sans", sans-serif' font-weight="bold" fill="#000" stroke="#000" stroke-width="0.3" text-anchor="end" transform="rotate(-90 150.40 384.00)">P 14</text>
<text x="171.20" y="384.00" font-size="7.2" font-family='"Liberation Sans", sans-serif' font-weight="bold" fill="#000" stroke="#000" stroke-width="0.3" text-anchor="end" transform="rotate(-90 171.20 384.00)">P 19</text>
<text x="191.40" y="384.00" font-size="7.2" font-family='"Liberation Sans", sans-serif' font-weight="bold" fill="#000" stroke="#000" stroke-width="0.3" text-anchor="end" transform="rotate(-90 191.40 384.00)">P 20</text>
<text x="211.50" y="384.60" font-size="7.2" font-family='"Liberation Sans", sans-serif' font-weight="bold" fill="#000" stroke="#000" stroke-width="0.3" text-anchor="end" transform="rotate(-90 211.50 384.60)">M</text>
<text x="232.10" y="384.00" font-size="7.2" font-family='"Liberation Sans", sans-serif' font-weight="bold" fill="#000" stroke="#000" stroke-width="0.3" text-anchor="end" transform="rotate(-90 232.10 384.00)">PMA</text>
<line x1="311.25" y1="290.75" x2="311.25" y2="383.50" stroke="#000" stroke-width="1.4" />
<line x1="308.00" y1="383.00" x2="519.40" y2="383.00" stroke="#000" stroke-width="1.4" />
<line x1="308.00" y1="291.25" x2="311.25" y2="291.25" stroke="#000" stroke-width="1.2" />
<text x="308.20" y="293.70" font-size="6.8" font-family='"Liberation Sans", sans-serif' font-weight="bold" fill="#000" stroke="#000" stroke-width="0.3" text-anchor="end">400</text>
<line x1="308.00" y1="314.40" x2="311.25" y2="314.40" stroke="#000" stroke-width="1.2" />
<text x="308.20" y="316.85" font-size="6.8" font-family='"Liberation Sans", sans-serif' font-weight="bold" fill="#000" stroke="#000" stroke-width="0.3" text-anchor="end">300</text>
<line x1="308.00" y1="337.20" x2="311.25" y2="337.20" stroke="#000" stroke-width="1.2" />
<text x="308.20" y="339.65" font-size="6.8" font-family='"Liberation Sans", sans-serif' font-weight="bold" fill="#000" stroke="#000" stroke-width="0.3" text-anchor="end">200</text>
<line x1="308.00" y1="360.25" x2="311.25" y2="360.25" stroke="#000" stroke-width="1.2" />
<text x="308.20" y="362.70" font-size="6.8" font-family='"Liberation Sans", sans-serif' font-weight="bold" fill="#000" stroke="#000" stroke-width="0.3" text-anchor="end">100</text>
<text x="308.20" y="385.45" font-size="6.8" font-family='"Liberation Sans", sans-serif' font-weight="bold" fill="#000" stroke="#000" stroke-width="0.3" text-anchor="end">0</text>
<text x="289.70" y="354.40" font-size="9.8" font-family='"Liberation Sans", sans-serif' font-weight="bold" stroke="#000" stroke-width="0.3" textLength="66.90" lengthAdjust="spacingAndGlyphs" transform="rotate(-90 289.70 354.40)">SFU/10<tspan font-size="6.08" dy="-3.2">6</tspan><tspan dy="3.2"> PBMC</tspan></text>
<text x="327.00" y="293.40" font-size="11" font-family='"Liberation Sans", sans-serif' font-weight="bold" fill="#000" stroke="#000" stroke-width="0.3" textLength="45.00" lengthAdjust="spacingAndGlyphs">Week 24</text>
<line x1="311.25" y1="354.75" x2="513.50" y2="354.75" stroke="#000" stroke-width="1.6" />
<line x1="314.50" y1="376.25" x2="314.50" y2="380.55" stroke="#222" stroke-width="0.6" />
<line x1="313.20" y1="376.25" x2="315.80" y2="376.25" stroke="#222" stroke-width="0.6" />
<rect x="312.95" y="380.25" width="3.10" height="2.75" fill="#000" />
<line x1="321.70" y1="378.50" x2="321.70" y2="381.55" stroke="#222" stroke-width="0.6" />
<line x1="320.40" y1="378.50" x2="323.00" y2="378.50" stroke="#222" stroke-width="0.6" />
<rect x="320.15" y="381.25" width="3.10" height="1.75" fill="#000" />
<line x1="328.90" y1="373.30" x2="328.90" y2="378.10" stroke="#222" stroke-width="0.6" />
<line x1="327.60" y1="373.30" x2="330.20" y2="373.30" stroke="#222" stroke-width="0.6" />
<rect x="327.35" y="377.80" width="3.10" height="5.20" fill="#000" />
<line x1="336.10" y1="376.25" x2="336.10" y2="377.70" stroke="#222" stroke-width="0.6" />
<line x1="334.80" y1="376.25" x2="337.40" y2="376.25" stroke="#222" stroke-width="0.6" />
<rect x="334.55" y="377.40" width="3.10" height="5.60" fill="#000" />
<line x1="343.25" y1="364.40" x2="343.25" y2="365.30" stroke="#222" stroke-width="0.6" />
<line x1="341.95" y1="364.40" x2="344.55" y2="364.40" stroke="#222" stroke-width="0.6" />
<rect x="341.70" y="365.00" width="3.10" height="18.00" fill="#000" />
<line x1="350.30" y1="376.25" x2="350.30" y2="379.05" stroke="#222" stroke-width="0.6" />
<line x1="349.00" y1="376.25" x2="351.60" y2="376.25" stroke="#222" stroke-width="0.6" />
<rect x="348.75" y="378.75" width="3.10" height="4.25" fill="#000" />
<line x1="357.50" y1="369.40" x2="357.50" y2="372.20" stroke="#222" stroke-width="0.6" />
<line x1="356.20" y1="369.40" x2="358.80" y2="369.40" stroke="#222" stroke-width="0.6" />
<rect x="355.95" y="371.90" width="3.10" height="11.10" fill="#000" />
<line x1="364.50" y1="379.00" x2="364.50" y2="381.55" stroke="#222" stroke-width="0.6" />
<line x1="363.20" y1="379.00" x2="365.80" y2="379.00" stroke="#222" stroke-width="0.6" />
<rect x="362.95" y="381.25" width="3.10" height="1.75" fill="#000" />
<line x1="371.90" y1="364.40" x2="371.90" y2="368.05" stroke="#222" stroke-width="0.6" />
<line x1="370.60" y1="364.40" x2="373.20" y2="364.40" stroke="#222" stroke-width="0.6" />
<rect x="370.35" y="367.75" width="3.10" height="15.25" fill="#000" />
<line x1="379.00" y1="374.40" x2="379.00" y2="379.30" stroke="#222" stroke-width="0.6" />
<line x1="377.70" y1="374.40" x2="380.30" y2="374.40" stroke="#222" stroke-width="0.6" />
<rect x="377.45" y="379.00" width="3.10" height="4.00" fill="#000" />
<line x1="386.20" y1="368.75" x2="386.20" y2="375.55" stroke="#222" stroke-width="0.6" />
<line x1="384.90" y1="368.75" x2="387.50" y2="368.75" stroke="#222" stroke-width="0.6" />
<rect x="384.65" y="375.25" width="3.10" height="7.75" fill="#000" />
<rect x="391.90" y="353.75" width="3.10" height="29.25" fill="#000" />
<line x1="400.60" y1="342.25" x2="400.60" y2="349.05" stroke="#222" stroke-width="0.6" />
<line x1="399.30" y1="342.25" x2="401.90" y2="342.25" stroke="#222" stroke-width="0.6" />
<rect x="399.05" y="348.75" width="3.10" height="34.25" fill="#000" />
<line x1="407.80" y1="368.50" x2="407.80" y2="371.55" stroke="#222" stroke-width="0.6" />
<line x1="406.50" y1="368.50" x2="409.10" y2="368.50" stroke="#222" stroke-width="0.6" />
<rect x="406.25" y="371.25" width="3.10" height="11.75" fill="#000" />
<line x1="414.80" y1="371.25" x2="414.80" y2="374.05" stroke="#222" stroke-width="0.6" />
<line x1="413.50" y1="371.25" x2="416.10" y2="371.25" stroke="#222" stroke-width="0.6" />
<rect x="413.25" y="373.75" width="3.10" height="9.25" fill="#000" />
<rect x="420.65" y="381.20" width="3.10" height="1.80" fill="#000" />
<line x1="429.20" y1="376.25" x2="429.20" y2="379.70" stroke="#222" stroke-width="0.6" />
<line x1="427.90" y1="376.25" x2="430.50" y2="376.25" stroke="#222" stroke-width="0.6" />
<rect x="427.65" y="379.40" width="3.10" height="3.60" fill="#000" />
<line x1="436.50" y1="378.00" x2="436.50" y2="379.50" stroke="#222" stroke-width="0.6" />
<line x1="435.20" y1="378.00" x2="437.80" y2="378.00" stroke="#222" stroke-width="0.6" />
<rect x="434.95" y="379.20" width="3.10" height="3.80" fill="#000" />
<line x1="443.50" y1="369.75" x2="443.50" y2="374.05" stroke="#222" stroke-width="0.6" />
<line x1="442.20" y1="369.75" x2="444.80" y2="369.75" stroke="#222" stroke-width="0.6" />
<rect x="441.95" y="373.75" width="3.10" height="9.25" fill="#000" />
<line x1="450.55" y1="371.00" x2="450.55" y2="373.40" stroke="#222" stroke-width="0.6" />
<line x1="449.25" y1="371.00" x2="451.85" y2="371.00" stroke="#222" stroke-width="0.6" />
<rect x="449.00" y="373.10" width="3.10" height="9.90" fill="#000" />
<line x1="457.80" y1="375.25" x2="457.80" y2="379.30" stroke="#222" stroke-width="0.6" />
<line x1="456.50" y1="375.25" x2="459.10" y2="375.25" stroke="#222" stroke-width="0.6" />
<rect x="456.25" y="379.00" width="3.10" height="4.00" fill="#000" />
<line x1="464.90" y1="376.25" x2="464.90" y2="378.80" stroke="#222" stroke-width="0.6" />
<line x1="463.60" y1="376.25" x2="466.20" y2="376.25" stroke="#222" stroke-width="0.6" />
<rect x="463.35" y="378.50" width="3.10" height="4.50" fill="#000" />
<line x1="472.00" y1="375.60" x2="472.00" y2="379.05" stroke="#222" stroke-width="0.6" />
<line x1="470.70" y1="375.60" x2="473.30" y2="375.60" stroke="#222" stroke-width="0.6" />
<rect x="470.45" y="378.75" width="3.10" height="4.25" fill="#000" />
<line x1="479.20" y1="377.50" x2="479.20" y2="379.05" stroke="#222" stroke-width="0.6" />
<line x1="477.90" y1="377.50" x2="480.50" y2="377.50" stroke="#222" stroke-width="0.6" />
<rect x="477.65" y="378.75" width="3.10" height="4.25" fill="#000" />
<line x1="500.60" y1="380.60" x2="500.60" y2="383.30" stroke="#222" stroke-width="0.6" />
<line x1="499.30" y1="380.60" x2="501.90" y2="380.60" stroke="#222" stroke-width="0.6" />
<line x1="507.70" y1="368.50" x2="507.70" y2="373.40" stroke="#222" stroke-width="0.6" />
<line x1="506.40" y1="368.50" x2="509.00" y2="368.50" stroke="#222" stroke-width="0.6" />
<rect x="506.15" y="373.10" width="3.10" height="9.90" fill="#000" />
<rect x="513.20" y="291.25" width="3.70" height="91.75" fill="#000" />
<line x1="512.60" y1="299.34" x2="517.50" y2="295.66" stroke="#fff" stroke-width="2.3" />
<line x1="512.60" y1="304.59" x2="517.50" y2="300.91" stroke="#fff" stroke-width="2.3" />
<line x1="320.40" y1="391.80" x2="492.70" y2="391.80" stroke="#111" stroke-width="1.2" />
<polyline points="325.20,388.70 320.00,391.80 325.20,394.90" fill="none" stroke="#111" stroke-width="1.2"/>
<polyline points="487.90,388.70 493.10,391.80 487.90,394.90" fill="none" stroke="#111" stroke-width="1.2"/>
<text x="398.10" y="340.00" font-size="9.2" font-family='"Liberation Sans", sans-serif' font-weight="bold" fill="#000" stroke="#000" stroke-width="0.3" text-anchor="middle">13</text>
<text x="316.25" y="389.40" font-size="6.9" font-family='"Liberation Sans", sans-serif' font-weight="bold" fill="#000" stroke="#000" stroke-width="0.3" text-anchor="end" transform="rotate(-90 316.25 389.40)">P 1</text>
<text x="503.50" y="386.50" font-size="6.9" font-family='"Liberation Sans", sans-serif' font-weight="bold" fill="#000" stroke="#000" stroke-width="0.3" text-anchor="end" transform="rotate(-90 503.50 386.50)">P 24</text>
<text x="511.50" y="386.50" font-size="6.9" font-family='"Liberation Sans", sans-serif' font-weight="bold" fill="#000" stroke="#000" stroke-width="0.3" text-anchor="end" transform="rotate(-90 511.50 386.50)">M</text>
<text x="519.50" y="386.00" font-size="6.9" font-family='"Liberation Sans", sans-serif' font-weight="bold" fill="#000" stroke="#000" stroke-width="0.3" text-anchor="end" transform="rotate(-90 519.50 386.00)">PMA</text>
<rect x="55.50" y="415.60" width="38.90" height="10.65" fill="#c0c0c0" />
<rect x="55.50" y="426.25" width="38.90" height="10.62" fill="#c0c0c0" />
<rect x="55.50" y="436.88" width="38.90" height="10.62" fill="#c0c0c0" />
<rect x="55.50" y="447.50" width="38.90" height="10.62" fill="#c0c0c0" />
<rect x="55.50" y="458.12" width="38.90" height="10.62" fill="#c0c0c0" />
<rect x="17.50" y="468.75" width="501.80" height="10.62" fill="#c0c0c0" />
<rect x="55.50" y="479.38" width="38.90" height="10.62" fill="#c0c0c0" />
<rect x="55.50" y="490.00" width="38.90" height="10.62" fill="#c0c0c0" />
<rect x="55.50" y="500.62" width="38.90" height="10.62" fill="#c0c0c0" />
<rect x="17.50" y="511.25" width="501.80" height="10.62" fill="#c0c0c0" />
<rect x="55.50" y="521.88" width="38.90" height="10.62" fill="#c0c0c0" />
<rect x="55.50" y="532.50" width="38.90" height="10.62" fill="#c0c0c0" />
<rect x="17.50" y="543.12" width="501.80" height="10.62" fill="#c0c0c0" />
<rect x="55.50" y="468.75" width="38.90" height="10.62" fill="#000" />
<rect x="55.50" y="511.25" width="38.90" height="10.62" fill="#000" />
<rect x="55.50" y="543.12" width="38.90" height="10.62" fill="#000" />
<rect x="55.50" y="553.35" width="77.60" height="12.15" fill="#000" />
<line x1="55.50" y1="415.60" x2="55.50" y2="553.75" stroke="#151515" stroke-width="0.95" />
<line x1="94.40" y1="415.60" x2="94.40" y2="553.75" stroke="#151515" stroke-width="0.95" />
<line x1="133.10" y1="415.60" x2="133.10" y2="553.75" stroke="#151515" stroke-width="0.95" />
<line x1="171.75" y1="415.60" x2="171.75" y2="553.75" stroke="#151515" stroke-width="0.95" />
<line x1="210.40" y1="415.60" x2="210.40" y2="553.75" stroke="#151515" stroke-width="0.95" />
<line x1="248.90" y1="415.60" x2="248.90" y2="553.75" stroke="#151515" stroke-width="0.95" />
<line x1="287.30" y1="415.60" x2="287.30" y2="553.75" stroke="#151515" stroke-width="0.95" />
<line x1="325.80" y1="415.60" x2="325.80" y2="553.75" stroke="#151515" stroke-width="0.95" />
<line x1="364.40" y1="415.60" x2="364.40" y2="553.75" stroke="#151515" stroke-width="0.95" />
<line x1="402.90" y1="415.60" x2="402.90" y2="553.75" stroke="#151515" stroke-width="0.95" />
<line x1="441.30" y1="415.60" x2="441.30" y2="553.75" stroke="#151515" stroke-width="0.95" />
<line x1="480.00" y1="415.60" x2="480.00" y2="553.75" stroke="#151515" stroke-width="0.95" />
<line x1="519.30" y1="415.60" x2="519.30" y2="553.75" stroke="#151515" stroke-width="0.95" />
<line x1="17.50" y1="426.25" x2="17.50" y2="553.75" stroke="#151515" stroke-width="0.95" />
<line x1="55.50" y1="415.60" x2="519.30" y2="415.60" stroke="#151515" stroke-width="0.95" />
<line x1="17.50" y1="426.25" x2="519.30" y2="426.25" stroke="#151515" stroke-width="0.95" />
<line x1="17.50" y1="436.88" x2="519.30" y2="436.88" stroke="#151515" stroke-width="0.95" />
<line x1="17.50" y1="447.50" x2="519.30" y2="447.50" stroke="#151515" stroke-width="0.95" />
<line x1="17.50" y1="458.12" x2="519.30" y2="458.12" stroke="#151515" stroke-width="0.95" />
<line x1="17.50" y1="468.75" x2="519.30" y2="468.75" stroke="#151515" stroke-width="0.95" />
<line x1="17.50" y1="479.38" x2="519.30" y2="479.38" stroke="#151515" stroke-width="0.95" />
<line x1="17.50" y1="490.00" x2="519.30" y2="490.00" stroke="#151515" stroke-width="0.95" />
<line x1="17.50" y1="500.62" x2="519.30" y2="500.62" stroke="#151515" stroke-width="0.95" />
<line x1="17.50" y1="511.25" x2="519.30" y2="511.25" stroke="#151515" stroke-width="0.95" />
<line x1="17.50" y1="521.88" x2="519.30" y2="521.88" stroke="#151515" stroke-width="0.95" />
<line x1="17.50" y1="532.50" x2="519.30" y2="532.50" stroke="#151515" stroke-width="0.95" />
<line x1="17.50" y1="543.12" x2="519.30" y2="543.12" stroke="#151515" stroke-width="0.95" />
<line x1="17.50" y1="553.75" x2="519.30" y2="553.75" stroke="#151515" stroke-width="0.95" />
<text x="73.35" y="423.90" font-size="6.9" font-family='"DejaVu Sans Condensed", "DejaVu Sans", "Liberation Sans", sans-serif' font-weight="bold" fill="#000" stroke="#000" stroke-width="0.2" text-anchor="middle" textLength="25.80" lengthAdjust="spacingAndGlyphs">Pool 13</text>
<text x="112.15" y="423.90" font-size="6.9" font-family='"DejaVu Sans Condensed", "DejaVu Sans", "Liberation Sans", sans-serif' font-weight="bold" fill="#000" stroke="#000" stroke-width="0.2" text-anchor="middle" textLength="25.80" lengthAdjust="spacingAndGlyphs">Pool 14</text>
<text x="150.83" y="423.90" font-size="6.9" font-family='"DejaVu Sans Condensed", "DejaVu Sans", "Liberation Sans", sans-serif' font-weight="bold" fill="#000" stroke="#000" stroke-width="0.2" text-anchor="middle" textLength="25.80" lengthAdjust="spacingAndGlyphs">Pool 15</text>
<text x="189.47" y="423.90" font-size="6.9" font-family='"DejaVu Sans Condensed", "DejaVu Sans", "Liberation Sans", sans-serif' font-weight="bold" fill="#000" stroke="#000" stroke-width="0.2" text-anchor="middle" textLength="25.80" lengthAdjust="spacingAndGlyphs">Pool 16</text>
<text x="228.05" y="423.90" font-size="6.9" font-family='"DejaVu Sans Condensed", "DejaVu Sans", "Liberation Sans", sans-serif' font-weight="bold" fill="#000" stroke="#000" stroke-width="0.2" text-anchor="middle" textLength="25.80" lengthAdjust="spacingAndGlyphs">Pool 17</text>
<text x="266.50" y="423.90" font-size="6.9" font-family='"DejaVu Sans Condensed", "DejaVu Sans", "Liberation Sans", sans-serif' font-weight="bold" fill="#000" stroke="#000" stroke-width="0.2" text-anchor="middle" textLength="25.80" lengthAdjust="spacingAndGlyphs">Pool 18</text>
<text x="304.95" y="423.90" font-size="6.9" font-family='"DejaVu Sans Condensed", "DejaVu Sans", "Liberation Sans", sans-serif' font-weight="bold" fill="#000" stroke="#000" stroke-width="0.2" text-anchor="middle" textLength="25.80" lengthAdjust="spacingAndGlyphs">Pool 19</text>
<text x="343.50" y="423.90" font-size="6.9" font-family='"DejaVu Sans Condensed", "DejaVu Sans", "Liberation Sans", sans-serif' font-weight="bold" fill="#000" stroke="#000" stroke-width="0.2" text-anchor="middle" textLength="25.80" lengthAdjust="spacingAndGlyphs">Pool 20</text>
<text x="382.05" y="423.90" font-size="6.9" font-family='"DejaVu Sans Condensed", "DejaVu Sans", "Liberation Sans", sans-serif' font-weight="bold" fill="#000" stroke="#000" stroke-width="0.2" text-anchor="middle" textLength="25.80" lengthAdjust="spacingAndGlyphs">Pool 21</text>
<text x="420.50" y="423.90" font-size="6.9" font-family='"DejaVu Sans Condensed", "DejaVu Sans", "Liberation Sans", sans-serif' font-weight="bold" fill="#000" stroke="#000" stroke-width="0.2" text-anchor="middle" textLength="25.80" lengthAdjust="spacingAndGlyphs">Pool 22</text>
<text x="459.05" y="423.90" font-size="6.9" font-family='"DejaVu Sans Condensed", "DejaVu Sans", "Liberation Sans", sans-serif' font-weight="bold" fill="#000" stroke="#000" stroke-width="0.2" text-anchor="middle" textLength="25.80" lengthAdjust="spacingAndGlyphs">Pool 23</text>
<text x="498.05" y="423.90" font-size="6.9" font-family='"DejaVu Sans Condensed", "DejaVu Sans", "Liberation Sans", sans-serif' font-weight="bold" fill="#000" stroke="#000" stroke-width="0.2" text-anchor="middle" textLength="25.80" lengthAdjust="spacingAndGlyphs">Pool 24</text>
<text x="35.70" y="434.65" font-size="6.9" font-family='"DejaVu Sans Condensed", "DejaVu Sans", "Liberation Sans", sans-serif' font-weight="bold" fill="#000" stroke="#000" stroke-width="0.2" text-anchor="middle">Pool 1</text>
<text x="74.95" y="434.65" font-size="6.9" font-family='"DejaVu Sans Condensed", "DejaVu Sans", "Liberation Sans", sans-serif' font-weight="bold" fill="#000" stroke="#000" stroke-width="0.2" text-anchor="middle">1</text>
<text x="113.75" y="434.65" font-size="6.9" font-family='"DejaVu Sans Condensed", "DejaVu Sans", "Liberation Sans", sans-serif' font-weight="bold" fill="#000" stroke="#000" stroke-width="0.2" text-anchor="middle">2</text>
<text x="152.43" y="434.65" font-size="6.9" font-family='"DejaVu Sans Condensed", "DejaVu Sans", "Liberation Sans", sans-serif' font-weight="bold" fill="#000" stroke="#000" stroke-width="0.2" text-anchor="middle">3</text>
<text x="191.07" y="434.65" font-size="6.9" font-family='"DejaVu Sans Condensed", "DejaVu Sans", "Liberation Sans", sans-serif' font-weight="bold" fill="#000" stroke="#000" stroke-width="0.2" text-anchor="middle">4</text>
<text x="229.65" y="434.65" font-size="6.9" font-family='"DejaVu Sans Condensed", "DejaVu Sans", "Liberation Sans", sans-serif' font-weight="bold" fill="#000" stroke="#000" stroke-width="0.2" text-anchor="middle">5</text>
<text x="268.10" y="434.65" font-size="6.9" font-family='"DejaVu Sans Condensed", "DejaVu Sans", "Liberation Sans", sans-serif' font-weight="bold" fill="#000" stroke="#000" stroke-width="0.2" text-anchor="middle">6</text>
<text x="306.55" y="434.65" font-size="6.9" font-family='"DejaVu Sans Condensed", "DejaVu Sans", "Liberation Sans", sans-serif' font-weight="bold" fill="#000" stroke="#000" stroke-width="0.2" text-anchor="middle">7</text>
<text x="345.10" y="434.65" font-size="6.9" font-family='"DejaVu Sans Condensed", "DejaVu Sans", "Liberation Sans", sans-serif' font-weight="bold" fill="#000" stroke="#000" stroke-width="0.2" text-anchor="middle">8</text>
<text x="383.65" y="434.65" font-size="6.9" font-family='"DejaVu Sans Condensed", "DejaVu Sans", "Liberation Sans", sans-serif' font-weight="bold" fill="#000" stroke="#000" stroke-width="0.2" text-anchor="middle">9</text>
<text x="422.10" y="434.65" font-size="6.9" font-family='"DejaVu Sans Condensed", "DejaVu Sans", "Liberation Sans", sans-serif' font-weight="bold" fill="#000" stroke="#000" stroke-width="0.2" text-anchor="middle">10</text>
<text x="460.65" y="434.65" font-size="6.9" font-family='"DejaVu Sans Condensed", "DejaVu Sans", "Liberation Sans", sans-serif' font-weight="bold" fill="#000" stroke="#000" stroke-width="0.2" text-anchor="middle">11</text>
<text x="499.65" y="434.65" font-size="6.9" font-family='"DejaVu Sans Condensed", "DejaVu Sans", "Liberation Sans", sans-serif' font-weight="bold" fill="#000" stroke="#000" stroke-width="0.2" text-anchor="middle">12</text>
<text x="35.70" y="445.27" font-size="6.9" font-family='"DejaVu Sans Condensed", "DejaVu Sans", "Liberation Sans", sans-serif' font-weight="bold" fill="#000" stroke="#000" stroke-width="0.2" text-anchor="middle">Pool 2</text>
<text x="74.95" y="445.27" font-size="6.9" font-family='"DejaVu Sans Condensed", "DejaVu Sans", "Liberation Sans", sans-serif' font-weight="bold" fill="#000" stroke="#000" stroke-width="0.2" text-anchor="middle">13</text>
<text x="113.75" y="445.27" font-size="6.9" font-family='"DejaVu Sans Condensed", "DejaVu Sans", "Liberation Sans", sans-serif' font-weight="bold" fill="#000" stroke="#000" stroke-width="0.2" text-anchor="middle">14</text>
<text x="152.43" y="445.27" font-size="6.9" font-family='"DejaVu Sans Condensed", "DejaVu Sans", "Liberation Sans", sans-serif' font-weight="bold" fill="#000" stroke="#000" stroke-width="0.2" text-anchor="middle">15</text>
<text x="191.07" y="445.27" font-size="6.9" font-family='"DejaVu Sans Condensed", "DejaVu Sans", "Liberation Sans", sans-serif' font-weight="bold" fill="#000" stroke="#000" stroke-width="0.2" text-anchor="middle">16</text>
<text x="229.65" y="445.27" font-size="6.9" font-family='"DejaVu Sans Condensed", "DejaVu Sans", "Liberation Sans", sans-serif' font-weight="bold" fill="#000" stroke="#000" stroke-width="0.2" text-anchor="middle">17</text>
<text x="268.10" y="445.27" font-size="6.9" font-family='"DejaVu Sans Condensed", "DejaVu Sans", "Liberation Sans", sans-serif' font-weight="bold" fill="#000" stroke="#000" stroke-width="0.2" text-anchor="middle">18</text>
<text x="306.55" y="445.27" font-size="6.9" font-family='"DejaVu Sans Condensed", "DejaVu Sans", "Liberation Sans", sans-serif' font-weight="bold" fill="#000" stroke="#000" stroke-width="0.2" text-anchor="middle">19</text>
<text x="345.10" y="445.27" font-size="6.9" font-family='"DejaVu Sans Condensed", "DejaVu Sans", "Liberation Sans", sans-serif' font-weight="bold" fill="#000" stroke="#000" stroke-width="0.2" text-anchor="middle">20</text>
<text x="383.65" y="445.27" font-size="6.9" font-family='"DejaVu Sans Condensed", "DejaVu Sans", "Liberation Sans", sans-serif' font-weight="bold" fill="#000" stroke="#000" stroke-width="0.2" text-anchor="middle">21</text>
<text x="422.10" y="445.27" font-size="6.9" font-family='"DejaVu Sans Condensed", "DejaVu Sans", "Liberation Sans", sans-serif' font-weight="bold" fill="#000" stroke="#000" stroke-width="0.2" text-anchor="middle">22</text>
<text x="460.65" y="445.27" font-size="6.9" font-family='"DejaVu Sans Condensed", "DejaVu Sans", "Liberation Sans", sans-serif' font-weight="bold" fill="#000" stroke="#000" stroke-width="0.2" text-anchor="middle">23</text>
<text x="499.65" y="445.27" font-size="6.9" font-family='"DejaVu Sans Condensed", "DejaVu Sans", "Liberation Sans", sans-serif' font-weight="bold" fill="#000" stroke="#000" stroke-width="0.2" text-anchor="middle">24</text>
<text x="35.70" y="455.90" font-size="6.9" font-family='"DejaVu Sans Condensed", "DejaVu Sans", "Liberation Sans", sans-serif' font-weight="bold" fill="#000" stroke="#000" stroke-width="0.2" text-anchor="middle">Pool 3</text>
<text x="74.95" y="455.90" font-size="6.9" font-family='"DejaVu Sans Condensed", "DejaVu Sans", "Liberation Sans", sans-serif' font-weight="bold" fill="#000" stroke="#000" stroke-width="0.2" text-anchor="middle">25</text>
<text x="113.75" y="455.90" font-size="6.9" font-family='"DejaVu Sans Condensed", "DejaVu Sans", "Liberation Sans", sans-serif' font-weight="bold" fill="#000" stroke="#000" stroke-width="0.2" text-anchor="middle">26</text>
<text x="152.43" y="455.90" font-size="6.9" font-family='"DejaVu Sans Condensed", "DejaVu Sans", "Liberation Sans", sans-serif' font-weight="bold" fill="#000" stroke="#000" stroke-width="0.2" text-anchor="middle">27</text>
<text x="191.07" y="455.90" font-size="6.9" font-family='"DejaVu Sans Condensed", "DejaVu Sans", "Liberation Sans", sans-serif' font-weight="bold" fill="#000" stroke="#000" stroke-width="0.2" text-anchor="middle">28</text>
<text x="229.65" y="455.90" font-size="6.9" font-family='"DejaVu Sans Condensed", "DejaVu Sans", "Liberation Sans", sans-serif' font-weight="bold" fill="#000" stroke="#000" stroke-width="0.2" text-anchor="middle">29</text>
<text x="268.10" y="455.90" font-size="6.9" font-family='"DejaVu Sans Condensed", "DejaVu Sans", "Liberation Sans", sans-serif' font-weight="bold" fill="#000" stroke="#000" stroke-width="0.2" text-anchor="middle">30</text>
<text x="306.55" y="455.90" font-size="6.9" font-family='"DejaVu Sans Condensed", "DejaVu Sans", "Liberation Sans", sans-serif' font-weight="bold" fill="#000" stroke="#000" stroke-width="0.2" text-anchor="middle">31</text>
<text x="345.10" y="455.90" font-size="6.9" font-family='"DejaVu Sans Condensed", "DejaVu Sans", "Liberation Sans", sans-serif' font-weight="bold" fill="#000" stroke="#000" stroke-width="0.2" text-anchor="middle">32</text>
<text x="383.65" y="455.90" font-size="6.9" font-family='"DejaVu Sans Condensed", "DejaVu Sans", "Liberation Sans", sans-serif' font-weight="bold" fill="#000" stroke="#000" stroke-width="0.2" text-anchor="middle">33</text>
<text x="422.10" y="455.90" font-size="6.9" font-family='"DejaVu Sans Condensed", "DejaVu Sans", "Liberation Sans", sans-serif' font-weight="bold" fill="#000" stroke="#000" stroke-width="0.2" text-anchor="middle">34</text>
<text x="460.65" y="455.90" font-size="6.9" font-family='"DejaVu Sans Condensed", "DejaVu Sans", "Liberation Sans", sans-serif' font-weight="bold" fill="#000" stroke="#000" stroke-width="0.2" text-anchor="middle">35</text>
<text x="499.65" y="455.90" font-size="6.9" font-family='"DejaVu Sans Condensed", "DejaVu Sans", "Liberation Sans", sans-serif' font-weight="bold" fill="#000" stroke="#000" stroke-width="0.2" text-anchor="middle">36</text>
<text x="35.70" y="466.52" font-size="6.9" font-family='"DejaVu Sans Condensed", "DejaVu Sans", "Liberation Sans", sans-serif' font-weight="bold" fill="#000" stroke="#000" stroke-width="0.2" text-anchor="middle">Pool 4</text>
<text x="74.95" y="466.52" font-size="6.9" font-family='"DejaVu Sans Condensed", "DejaVu Sans", "Liberation Sans", sans-serif' font-weight="bold" fill="#000" stroke="#000" stroke-width="0.2" text-anchor="middle">37</text>
<text x="113.75" y="466.52" font-size="6.9" font-family='"DejaVu Sans Condensed", "DejaVu Sans", "Liberation Sans", sans-serif' font-weight="bold" fill="#000" stroke="#000" stroke-width="0.2" text-anchor="middle">38</text>
<text x="152.43" y="466.52" font-size="6.9" font-family='"DejaVu Sans Condensed", "DejaVu Sans", "Liberation Sans", sans-serif' font-weight="bold" fill="#000" stroke="#000" stroke-width="0.2" text-anchor="middle">39</text>
<text x="191.07" y="466.52" font-size="6.9" font-family='"DejaVu Sans Condensed", "DejaVu Sans", "Liberation Sans", sans-serif' font-weight="bold" fill="#000" stroke="#000" stroke-width="0.2" text-anchor="middle">40</text>
<text x="229.65" y="466.52" font-size="6.9" font-family='"DejaVu Sans Condensed", "DejaVu Sans", "Liberation Sans", sans-serif' font-weight="bold" fill="#000" stroke="#000" stroke-width="0.2" text-anchor="middle">41</text>
<text x="268.10" y="466.52" font-size="6.9" font-family='"DejaVu Sans Condensed", "DejaVu Sans", "Liberation Sans", sans-serif' font-weight="bold" fill="#000" stroke="#000" stroke-width="0.2" text-anchor="middle">42</text>
<text x="306.55" y="466.52" font-size="6.9" font-family='"DejaVu Sans Condensed", "DejaVu Sans", "Liberation Sans", sans-serif' font-weight="bold" fill="#000" stroke="#000" stroke-width="0.2" text-anchor="middle">43</text>
<text x="345.10" y="466.52" font-size="6.9" font-family='"DejaVu Sans Condensed", "DejaVu Sans", "Liberation Sans", sans-serif' font-weight="bold" fill="#000" stroke="#000" stroke-width="0.2" text-anchor="middle">44</text>
<text x="383.65" y="466.52" font-size="6.9" font-family='"DejaVu Sans Condensed", "DejaVu Sans", "Liberation Sans", sans-serif' font-weight="bold" fill="#000" stroke="#000" stroke-width="0.2" text-anchor="middle">45</text>
<text x="422.10" y="466.52" font-size="6.9" font-family='"DejaVu Sans Condensed", "DejaVu Sans", "Liberation Sans", sans-serif' font-weight="bold" fill="#000" stroke="#000" stroke-width="0.2" text-anchor="middle">46</text>
<text x="460.65" y="466.52" font-size="6.9" font-family='"DejaVu Sans Condensed", "DejaVu Sans", "Liberation Sans", sans-serif' font-weight="bold" fill="#000" stroke="#000" stroke-width="0.2" text-anchor="middle">47</text>
<text x="499.65" y="466.52" font-size="6.9" font-family='"DejaVu Sans Condensed", "DejaVu Sans", "Liberation Sans", sans-serif' font-weight="bold" fill="#000" stroke="#000" stroke-width="0.2" text-anchor="middle">48</text>
<text x="35.70" y="477.15" font-size="6.9" font-family='"DejaVu Sans Condensed", "DejaVu Sans", "Liberation Sans", sans-serif' font-weight="bold" fill="#000" stroke="#000" stroke-width="0.2" text-anchor="middle">Pool 5</text>
<text x="74.95" y="477.15" font-size="6.9" font-family='"DejaVu Sans Condensed", "DejaVu Sans", "Liberation Sans", sans-serif' font-weight="bold" fill="#fff" stroke="#fff" stroke-width="0.2" text-anchor="middle">49</text>
<text x="113.75" y="477.15" font-size="6.9" font-family='"DejaVu Sans Condensed", "DejaVu Sans", "Liberation Sans", sans-serif' font-weight="bold" fill="#000" stroke="#000" stroke-width="0.2" text-anchor="middle">50</text>
<text x="152.43" y="477.15" font-size="6.9" font-family='"DejaVu Sans Condensed", "DejaVu Sans", "Liberation Sans", sans-serif' font-weight="bold" fill="#000" stroke="#000" stroke-width="0.2" text-anchor="middle">51</text>
<text x="191.07" y="477.15" font-size="6.9" font-family='"DejaVu Sans Condensed", "DejaVu Sans", "Liberation Sans", sans-serif' font-weight="bold" fill="#000" stroke="#000" stroke-width="0.2" text-anchor="middle">52</text>
<text x="229.65" y="477.15" font-size="6.9" font-family='"DejaVu Sans Condensed", "DejaVu Sans", "Liberation Sans", sans-serif' font-weight="bold" fill="#000" stroke="#000" stroke-width="0.2" text-anchor="middle">53</text>
<text x="268.10" y="477.15" font-size="6.9" font-family='"DejaVu Sans Condensed", "DejaVu Sans", "Liberation Sans", sans-serif' font-weight="bold" fill="#000" stroke="#000" stroke-width="0.2" text-anchor="middle">54</text>
<text x="306.55" y="477.15" font-size="6.9" font-family='"DejaVu Sans Condensed", "DejaVu Sans", "Liberation Sans", sans-serif' font-weight="bold" fill="#000" stroke="#000" stroke-width="0.2" text-anchor="middle">55</text>
<text x="345.10" y="477.15" font-size="6.9" font-family='"DejaVu Sans Condensed", "DejaVu Sans", "Liberation Sans", sans-serif' font-weight="bold" fill="#000" stroke="#000" stroke-width="0.2" text-anchor="middle">56</text>
<text x="383.65" y="477.15" font-size="6.9" font-family='"DejaVu Sans Condensed", "DejaVu Sans", "Liberation Sans", sans-serif' font-weight="bold" fill="#000" stroke="#000" stroke-width="0.2" text-anchor="middle">57</text>
<text x="422.10" y="477.15" font-size="6.9" font-family='"DejaVu Sans Condensed", "DejaVu Sans", "Liberation Sans", sans-serif' font-weight="bold" fill="#000" stroke="#000" stroke-width="0.2" text-anchor="middle">58</text>
<text x="460.65" y="477.15" font-size="6.9" font-family='"DejaVu Sans Condensed", "DejaVu Sans", "Liberation Sans", sans-serif' font-weight="bold" fill="#000" stroke="#000" stroke-width="0.2" text-anchor="middle">59</text>
<text x="499.65" y="477.15" font-size="6.9" font-family='"DejaVu Sans Condensed", "DejaVu Sans", "Liberation Sans", sans-serif' font-weight="bold" fill="#000" stroke="#000" stroke-width="0.2" text-anchor="middle">60</text>
<text x="35.70" y="487.77" font-size="6.9" font-family='"DejaVu Sans Condensed", "DejaVu Sans", "Liberation Sans", sans-serif' font-weight="bold" fill="#000" stroke="#000" stroke-width="0.2" text-anchor="middle">Pool 6</text>
<text x="74.95" y="487.77" font-size="6.9" font-family='"DejaVu Sans Condensed", "DejaVu Sans", "Liberation Sans", sans-serif' font-weight="bold" fill="#000" stroke="#000" stroke-width="0.2" text-anchor="middle">61</text>
<text x="113.75" y="487.77" font-size="6.9" font-family='"DejaVu Sans Condensed", "DejaVu Sans", "Liberation Sans", sans-serif' font-weight="bold" fill="#000" stroke="#000" stroke-width="0.2" text-anchor="middle">62</text>
<text x="152.43" y="487.77" font-size="6.9" font-family='"DejaVu Sans Condensed", "DejaVu Sans", "Liberation Sans", sans-serif' font-weight="bold" fill="#000" stroke="#000" stroke-width="0.2" text-anchor="middle">63</text>
<text x="191.07" y="487.77" font-size="6.9" font-family='"DejaVu Sans Condensed", "DejaVu Sans", "Liberation Sans", sans-serif' font-weight="bold" fill="#000" stroke="#000" stroke-width="0.2" text-anchor="middle">64</text>
<text x="229.65" y="487.77" font-size="6.9" font-family='"DejaVu Sans Condensed", "DejaVu Sans", "Liberation Sans", sans-serif' font-weight="bold" fill="#000" stroke="#000" stroke-width="0.2" text-anchor="middle">65</text>
<text x="268.10" y="487.77" font-size="6.9" font-family='"DejaVu Sans Condensed", "DejaVu Sans", "Liberation Sans", sans-serif' font-weight="bold" fill="#000" stroke="#000" stroke-width="0.2" text-anchor="middle">66</text>
<text x="306.55" y="487.77" font-size="6.9" font-family='"DejaVu Sans Condensed", "DejaVu Sans", "Liberation Sans", sans-serif' font-weight="bold" fill="#000" stroke="#000" stroke-width="0.2" text-anchor="middle">67</text>
<text x="345.10" y="487.77" font-size="6.9" font-family='"DejaVu Sans Condensed", "DejaVu Sans", "Liberation Sans", sans-serif' font-weight="bold" fill="#000" stroke="#000" stroke-width="0.2" text-anchor="middle">68</text>
<text x="383.65" y="487.77" font-size="6.9" font-family='"DejaVu Sans Condensed", "DejaVu Sans", "Liberation Sans", sans-serif' font-weight="bold" fill="#000" stroke="#000" stroke-width="0.2" text-anchor="middle">69</text>
<text x="422.10" y="487.77" font-size="6.9" font-family='"DejaVu Sans Condensed", "DejaVu Sans", "Liberation Sans", sans-serif' font-weight="bold" fill="#000" stroke="#000" stroke-width="0.2" text-anchor="middle">70</text>
<text x="460.65" y="487.77" font-size="6.9" font-family='"DejaVu Sans Condensed", "DejaVu Sans", "Liberation Sans", sans-serif' font-weight="bold" fill="#000" stroke="#000" stroke-width="0.2" text-anchor="middle">71</text>
<text x="499.65" y="487.77" font-size="6.9" font-family='"DejaVu Sans Condensed", "DejaVu Sans", "Liberation Sans", sans-serif' font-weight="bold" fill="#000" stroke="#000" stroke-width="0.2" text-anchor="middle">72</text>
<text x="35.70" y="498.40" font-size="6.9" font-family='"DejaVu Sans Condensed", "DejaVu Sans", "Liberation Sans", sans-serif' font-weight="bold" fill="#000" stroke="#000" stroke-width="0.2" text-anchor="middle">Pool 7</text>
<text x="74.95" y="498.40" font-size="6.9" font-family='"DejaVu Sans Condensed", "DejaVu Sans", "Liberation Sans", sans-serif' font-weight="bold" fill="#000" stroke="#000" stroke-width="0.2" text-anchor="middle">73</text>
<text x="113.75" y="498.40" font-size="6.9" font-family='"DejaVu Sans Condensed", "DejaVu Sans", "Liberation Sans", sans-serif' font-weight="bold" fill="#000" stroke="#000" stroke-width="0.2" text-anchor="middle">74</text>
<text x="152.43" y="498.40" font-size="6.9" font-family='"DejaVu Sans Condensed", "DejaVu Sans", "Liberation Sans", sans-serif' font-weight="bold" fill="#000" stroke="#000" stroke-width="0.2" text-anchor="middle">75</text>
<text x="191.07" y="498.40" font-size="6.9" font-family='"DejaVu Sans Condensed", "DejaVu Sans", "Liberation Sans", sans-serif' font-weight="bold" fill="#000" stroke="#000" stroke-width="0.2" text-anchor="middle">76</text>
<text x="229.65" y="498.40" font-size="6.9" font-family='"DejaVu Sans Condensed", "DejaVu Sans", "Liberation Sans", sans-serif' font-weight="bold" fill="#000" stroke="#000" stroke-width="0.2" text-anchor="middle">77</text>
<text x="268.10" y="498.40" font-size="6.9" font-family='"DejaVu Sans Condensed", "DejaVu Sans", "Liberation Sans", sans-serif' font-weight="bold" fill="#000" stroke="#000" stroke-width="0.2" text-anchor="middle">78</text>
<text x="306.55" y="498.40" font-size="6.9" font-family='"DejaVu Sans Condensed", "DejaVu Sans", "Liberation Sans", sans-serif' font-weight="bold" fill="#000" stroke="#000" stroke-width="0.2" text-anchor="middle">79</text>
<text x="345.10" y="498.40" font-size="6.9" font-family='"DejaVu Sans Condensed", "DejaVu Sans", "Liberation Sans", sans-serif' font-weight="bold" fill="#000" stroke="#000" stroke-width="0.2" text-anchor="middle">80</text>
<text x="383.65" y="498.40" font-size="6.9" font-family='"DejaVu Sans Condensed", "DejaVu Sans", "Liberation Sans", sans-serif' font-weight="bold" fill="#000" stroke="#000" stroke-width="0.2" text-anchor="middle">81</text>
<text x="422.10" y="498.40" font-size="6.9" font-family='"DejaVu Sans Condensed", "DejaVu Sans", "Liberation Sans", sans-serif' font-weight="bold" fill="#000" stroke="#000" stroke-width="0.2" text-anchor="middle">82</text>
<text x="460.65" y="498.40" font-size="6.9" font-family='"DejaVu Sans Condensed", "DejaVu Sans", "Liberation Sans", sans-serif' font-weight="bold" fill="#000" stroke="#000" stroke-width="0.2" text-anchor="middle">83</text>
<text x="499.65" y="498.40" font-size="6.9" font-family='"DejaVu Sans Condensed", "DejaVu Sans", "Liberation Sans", sans-serif' font-weight="bold" fill="#000" stroke="#000" stroke-width="0.2" text-anchor="middle">84</text>
<text x="35.70" y="509.02" font-size="6.9" font-family='"DejaVu Sans Condensed", "DejaVu Sans", "Liberation Sans", sans-serif' font-weight="bold" fill="#000" stroke="#000" stroke-width="0.2" text-anchor="middle">Pool 8</text>
<text x="74.95" y="509.02" font-size="6.9" font-family='"DejaVu Sans Condensed", "DejaVu Sans", "Liberation Sans", sans-serif' font-weight="bold" fill="#000" stroke="#000" stroke-width="0.2" text-anchor="middle">85</text>
<text x="113.75" y="509.02" font-size="6.9" font-family='"DejaVu Sans Condensed", "DejaVu Sans", "Liberation Sans", sans-serif' font-weight="bold" fill="#000" stroke="#000" stroke-width="0.2" text-anchor="middle">86</text>
<text x="152.43" y="509.02" font-size="6.9" font-family='"DejaVu Sans Condensed", "DejaVu Sans", "Liberation Sans", sans-serif' font-weight="bold" fill="#000" stroke="#000" stroke-width="0.2" text-anchor="middle">87</text>
<text x="191.07" y="509.02" font-size="6.9" font-family='"DejaVu Sans Condensed", "DejaVu Sans", "Liberation Sans", sans-serif' font-weight="bold" fill="#000" stroke="#000" stroke-width="0.2" text-anchor="middle">88</text>
<text x="229.65" y="509.02" font-size="6.9" font-family='"DejaVu Sans Condensed", "DejaVu Sans", "Liberation Sans", sans-serif' font-weight="bold" fill="#000" stroke="#000" stroke-width="0.2" text-anchor="middle">89</text>
<text x="268.10" y="509.02" font-size="6.9" font-family='"DejaVu Sans Condensed", "DejaVu Sans", "Liberation Sans", sans-serif' font-weight="bold" fill="#000" stroke="#000" stroke-width="0.2" text-anchor="middle">90</text>
<text x="306.55" y="509.02" font-size="6.9" font-family='"DejaVu Sans Condensed", "DejaVu Sans", "Liberation Sans", sans-serif' font-weight="bold" fill="#000" stroke="#000" stroke-width="0.2" text-anchor="middle">91</text>
<text x="345.10" y="509.02" font-size="6.9" font-family='"DejaVu Sans Condensed", "DejaVu Sans", "Liberation Sans", sans-serif' font-weight="bold" fill="#000" stroke="#000" stroke-width="0.2" text-anchor="middle">92</text>
<text x="383.65" y="509.02" font-size="6.9" font-family='"DejaVu Sans Condensed", "DejaVu Sans", "Liberation Sans", sans-serif' font-weight="bold" fill="#000" stroke="#000" stroke-width="0.2" text-anchor="middle">93</text>
<text x="422.10" y="509.02" font-size="6.9" font-family='"DejaVu Sans Condensed", "DejaVu Sans", "Liberation Sans", sans-serif' font-weight="bold" fill="#000" stroke="#000" stroke-width="0.2" text-anchor="middle">94</text>
<text x="460.65" y="509.02" font-size="6.9" font-family='"DejaVu Sans Condensed", "DejaVu Sans", "Liberation Sans", sans-serif' font-weight="bold" fill="#000" stroke="#000" stroke-width="0.2" text-anchor="middle">95</text>
<text x="499.65" y="509.02" font-size="6.9" font-family='"DejaVu Sans Condensed", "DejaVu Sans", "Liberation Sans", sans-serif' font-weight="bold" fill="#000" stroke="#000" stroke-width="0.2" text-anchor="middle">96</text>
<text x="35.70" y="519.65" font-size="6.9" font-family='"DejaVu Sans Condensed", "DejaVu Sans", "Liberation Sans", sans-serif' font-weight="bold" fill="#000" stroke="#000" stroke-width="0.2" text-anchor="middle">Pool 9</text>
<text x="74.95" y="519.65" font-size="6.9" font-family='"DejaVu Sans Condensed", "DejaVu Sans", "Liberation Sans", sans-serif' font-weight="bold" fill="#fff" stroke="#fff" stroke-width="0.2" text-anchor="middle">97</text>
<text x="113.75" y="519.65" font-size="6.9" font-family='"DejaVu Sans Condensed", "DejaVu Sans", "Liberation Sans", sans-serif' font-weight="bold" fill="#000" stroke="#000" stroke-width="0.2" text-anchor="middle">98</text>
<text x="152.43" y="519.65" font-size="6.9" font-family='"DejaVu Sans Condensed", "DejaVu Sans", "Liberation Sans", sans-serif' font-weight="bold" fill="#000" stroke="#000" stroke-width="0.2" text-anchor="middle">99</text>
<text x="191.07" y="519.65" font-size="6.9" font-family='"DejaVu Sans Condensed", "DejaVu Sans", "Liberation Sans", sans-serif' font-weight="bold" fill="#000" stroke="#000" stroke-width="0.2" text-anchor="middle">100</text>
<text x="229.65" y="519.65" font-size="6.9" font-family='"DejaVu Sans Condensed", "DejaVu Sans", "Liberation Sans", sans-serif' font-weight="bold" fill="#000" stroke="#000" stroke-width="0.2" text-anchor="middle">101</text>
<text x="268.10" y="519.65" font-size="6.9" font-family='"DejaVu Sans Condensed", "DejaVu Sans", "Liberation Sans", sans-serif' font-weight="bold" fill="#000" stroke="#000" stroke-width="0.2" text-anchor="middle">102</text>
<text x="306.55" y="519.65" font-size="6.9" font-family='"DejaVu Sans Condensed", "DejaVu Sans", "Liberation Sans", sans-serif' font-weight="bold" fill="#000" stroke="#000" stroke-width="0.2" text-anchor="middle">103</text>
<text x="345.10" y="519.65" font-size="6.9" font-family='"DejaVu Sans Condensed", "DejaVu Sans", "Liberation Sans", sans-serif' font-weight="bold" fill="#000" stroke="#000" stroke-width="0.2" text-anchor="middle">104</text>
<text x="383.65" y="519.65" font-size="6.9" font-family='"DejaVu Sans Condensed", "DejaVu Sans", "Liberation Sans", sans-serif' font-weight="bold" fill="#000" stroke="#000" stroke-width="0.2" text-anchor="middle">105</text>
<text x="422.10" y="519.65" font-size="6.9" font-family='"DejaVu Sans Condensed", "DejaVu Sans", "Liberation Sans", sans-serif' font-weight="bold" fill="#000" stroke="#000" stroke-width="0.2" text-anchor="middle">106</text>
<text x="460.65" y="519.65" font-size="6.9" font-family='"DejaVu Sans Condensed", "DejaVu Sans", "Liberation Sans", sans-serif' font-weight="bold" fill="#000" stroke="#000" stroke-width="0.2" text-anchor="middle">107</text>
<text x="499.65" y="519.65" font-size="6.9" font-family='"DejaVu Sans Condensed", "DejaVu Sans", "Liberation Sans", sans-serif' font-weight="bold" fill="#000" stroke="#000" stroke-width="0.2" text-anchor="middle">108</text>
<text x="35.70" y="530.27" font-size="6.9" font-family='"DejaVu Sans Condensed", "DejaVu Sans", "Liberation Sans", sans-serif' font-weight="bold" fill="#000" stroke="#000" stroke-width="0.2" text-anchor="middle">Pool 10</text>
<text x="74.95" y="530.27" font-size="6.9" font-family='"DejaVu Sans Condensed", "DejaVu Sans", "Liberation Sans", sans-serif' font-weight="bold" fill="#000" stroke="#000" stroke-width="0.2" text-anchor="middle">109</text>
<text x="113.75" y="530.27" font-size="6.9" font-family='"DejaVu Sans Condensed", "DejaVu Sans", "Liberation Sans", sans-serif' font-weight="bold" fill="#000" stroke="#000" stroke-width="0.2" text-anchor="middle">110</text>
<text x="152.43" y="530.27" font-size="6.9" font-family='"DejaVu Sans Condensed", "DejaVu Sans", "Liberation Sans", sans-serif' font-weight="bold" fill="#000" stroke="#000" stroke-width="0.2" text-anchor="middle">111</text>
<text x="191.07" y="530.27" font-size="6.9" font-family='"DejaVu Sans Condensed", "DejaVu Sans", "Liberation Sans", sans-serif' font-weight="bold" fill="#000" stroke="#000" stroke-width="0.2" text-anchor="middle">112</text>
<text x="229.65" y="530.27" font-size="6.9" font-family='"DejaVu Sans Condensed", "DejaVu Sans", "Liberation Sans", sans-serif' font-weight="bold" fill="#000" stroke="#000" stroke-width="0.2" text-anchor="middle">113</text>
<text x="268.10" y="530.27" font-size="6.9" font-family='"DejaVu Sans Condensed", "DejaVu Sans", "Liberation Sans", sans-serif' font-weight="bold" fill="#000" stroke="#000" stroke-width="0.2" text-anchor="middle">114</text>
<text x="306.55" y="530.27" font-size="6.9" font-family='"DejaVu Sans Condensed", "DejaVu Sans", "Liberation Sans", sans-serif' font-weight="bold" fill="#000" stroke="#000" stroke-width="0.2" text-anchor="middle">115</text>
<text x="345.10" y="530.27" font-size="6.9" font-family='"DejaVu Sans Condensed", "DejaVu Sans", "Liberation Sans", sans-serif' font-weight="bold" fill="#000" stroke="#000" stroke-width="0.2" text-anchor="middle">116</text>
<text x="383.65" y="530.27" font-size="6.9" font-family='"DejaVu Sans Condensed", "DejaVu Sans", "Liberation Sans", sans-serif' font-weight="bold" fill="#000" stroke="#000" stroke-width="0.2" text-anchor="middle">117</text>
<text x="422.10" y="530.27" font-size="6.9" font-family='"DejaVu Sans Condensed", "DejaVu Sans", "Liberation Sans", sans-serif' font-weight="bold" fill="#000" stroke="#000" stroke-width="0.2" text-anchor="middle">118</text>
<text x="460.65" y="530.27" font-size="6.9" font-family='"DejaVu Sans Condensed", "DejaVu Sans", "Liberation Sans", sans-serif' font-weight="bold" fill="#000" stroke="#000" stroke-width="0.2" text-anchor="middle">119</text>
<text x="499.65" y="530.27" font-size="6.9" font-family='"DejaVu Sans Condensed", "DejaVu Sans", "Liberation Sans", sans-serif' font-weight="bold" fill="#000" stroke="#000" stroke-width="0.2" text-anchor="middle">120</text>
<text x="35.70" y="540.90" font-size="6.9" font-family='"DejaVu Sans Condensed", "DejaVu Sans", "Liberation Sans", sans-serif' font-weight="bold" fill="#000" stroke="#000" stroke-width="0.2" text-anchor="middle">Pool 11</text>
<text x="74.95" y="540.90" font-size="6.9" font-family='"DejaVu Sans Condensed", "DejaVu Sans", "Liberation Sans", sans-serif' font-weight="bold" fill="#000" stroke="#000" stroke-width="0.2" text-anchor="middle">121</text>
<text x="113.75" y="540.90" font-size="6.9" font-family='"DejaVu Sans Condensed", "DejaVu Sans", "Liberation Sans", sans-serif' font-weight="bold" fill="#000" stroke="#000" stroke-width="0.2" text-anchor="middle">122</text>
<text x="152.43" y="540.90" font-size="6.9" font-family='"DejaVu Sans Condensed", "DejaVu Sans", "Liberation Sans", sans-serif' font-weight="bold" fill="#000" stroke="#000" stroke-width="0.2" text-anchor="middle">123</text>
<text x="191.07" y="540.90" font-size="6.9" font-family='"DejaVu Sans Condensed", "DejaVu Sans", "Liberation Sans", sans-serif' font-weight="bold" fill="#000" stroke="#000" stroke-width="0.2" text-anchor="middle">124</text>
<text x="229.65" y="540.90" font-size="6.9" font-family='"DejaVu Sans Condensed", "DejaVu Sans", "Liberation Sans", sans-serif' font-weight="bold" fill="#000" stroke="#000" stroke-width="0.2" text-anchor="middle">125</text>
<text x="268.10" y="540.90" font-size="6.9" font-family='"DejaVu Sans Condensed", "DejaVu Sans", "Liberation Sans", sans-serif' font-weight="bold" fill="#000" stroke="#000" stroke-width="0.2" text-anchor="middle">126</text>
<text x="306.55" y="540.90" font-size="6.9" font-family='"DejaVu Sans Condensed", "DejaVu Sans", "Liberation Sans", sans-serif' font-weight="bold" fill="#000" stroke="#000" stroke-width="0.2" text-anchor="middle">127</text>
<text x="345.10" y="540.90" font-size="6.9" font-family='"DejaVu Sans Condensed", "DejaVu Sans", "Liberation Sans", sans-serif' font-weight="bold" fill="#000" stroke="#000" stroke-width="0.2" text-anchor="middle">128</text>
<text x="383.65" y="540.90" font-size="6.9" font-family='"DejaVu Sans Condensed", "DejaVu Sans", "Liberation Sans", sans-serif' font-weight="bold" fill="#000" stroke="#000" stroke-width="0.2" text-anchor="middle">129</text>
<text x="422.10" y="540.90" font-size="6.9" font-family='"DejaVu Sans Condensed", "DejaVu Sans", "Liberation Sans", sans-serif' font-weight="bold" fill="#000" stroke="#000" stroke-width="0.2" text-anchor="middle">130</text>
<text x="460.65" y="540.90" font-size="6.9" font-family='"DejaVu Sans Condensed", "DejaVu Sans", "Liberation Sans", sans-serif' font-weight="bold" fill="#000" stroke="#000" stroke-width="0.2" text-anchor="middle">131</text>
<text x="499.65" y="540.90" font-size="6.9" font-family='"DejaVu Sans Condensed", "DejaVu Sans", "Liberation Sans", sans-serif' font-weight="bold" fill="#000" stroke="#000" stroke-width="0.2" text-anchor="middle">132</text>
<text x="35.70" y="551.52" font-size="6.9" font-family='"DejaVu Sans Condensed", "DejaVu Sans", "Liberation Sans", sans-serif' font-weight="bold" fill="#000" stroke="#000" stroke-width="0.2" text-anchor="middle">Pool 12</text>
<text x="74.95" y="551.52" font-size="6.9" font-family='"DejaVu Sans Condensed", "DejaVu Sans", "Liberation Sans", sans-serif' font-weight="bold" fill="#fff" stroke="#fff" stroke-width="0.2" text-anchor="middle">133</text>
<text x="113.75" y="551.52" font-size="6.9" font-family='"DejaVu Sans Condensed", "DejaVu Sans", "Liberation Sans", sans-serif' font-weight="bold" fill="#000" stroke="#000" stroke-width="0.2" text-anchor="middle">134</text>
<text x="152.43" y="551.52" font-size="6.9" font-family='"DejaVu Sans Condensed", "DejaVu Sans", "Liberation Sans", sans-serif' font-weight="bold" fill="#000" stroke="#000" stroke-width="0.2" text-anchor="middle">135</text>
<text x="191.07" y="551.52" font-size="6.9" font-family='"DejaVu Sans Condensed", "DejaVu Sans", "Liberation Sans", sans-serif' font-weight="bold" fill="#000" stroke="#000" stroke-width="0.2" text-anchor="middle">136</text>
<text x="229.65" y="551.52" font-size="6.9" font-family='"DejaVu Sans Condensed", "DejaVu Sans", "Liberation Sans", sans-serif' font-weight="bold" fill="#000" stroke="#000" stroke-width="0.2" text-anchor="middle">137</text>
<text x="268.10" y="551.52" font-size="6.9" font-family='"DejaVu Sans Condensed", "DejaVu Sans", "Liberation Sans", sans-serif' font-weight="bold" fill="#000" stroke="#000" stroke-width="0.2" text-anchor="middle">138</text>
<text x="306.55" y="551.52" font-size="6.9" font-family='"DejaVu Sans Condensed", "DejaVu Sans", "Liberation Sans", sans-serif' font-weight="bold" fill="#000" stroke="#000" stroke-width="0.2" text-anchor="middle">139</text>
<text x="345.10" y="551.52" font-size="6.9" font-family='"DejaVu Sans Condensed", "DejaVu Sans", "Liberation Sans", sans-serif' font-weight="bold" fill="#000" stroke="#000" stroke-width="0.2" text-anchor="middle">140</text>
<text x="383.65" y="551.52" font-size="6.9" font-family='"DejaVu Sans Condensed", "DejaVu Sans", "Liberation Sans", sans-serif' font-weight="bold" fill="#000" stroke="#000" stroke-width="0.2" text-anchor="middle">141</text>
<text x="422.10" y="551.52" font-size="6.9" font-family='"DejaVu Sans Condensed", "DejaVu Sans", "Liberation Sans", sans-serif' font-weight="bold" fill="#000" stroke="#000" stroke-width="0.2" text-anchor="middle">142</text>
<text x="460.65" y="551.52" font-size="6.9" font-family='"DejaVu Sans Condensed", "DejaVu Sans", "Liberation Sans", sans-serif' font-weight="bold" fill="#000" stroke="#000" stroke-width="0.2" text-anchor="middle">143</text>
<text x="499.65" y="551.52" font-size="6.9" font-family='"DejaVu Sans Condensed", "DejaVu Sans", "Liberation Sans", sans-serif' font-weight="bold" fill="#000" stroke="#000" stroke-width="0.2" text-anchor="middle">144</text>
<text x="74.95" y="562.15" font-size="6.9" font-family='"DejaVu Sans Condensed", "DejaVu Sans", "Liberation Sans", sans-serif' font-weight="bold" fill="#fff" stroke="#fff" stroke-width="0.2" text-anchor="middle">145</text>
<text x="113.75" y="562.15" font-size="6.9" font-family='"DejaVu Sans Condensed", "DejaVu Sans", "Liberation Sans", sans-serif' font-weight="bold" fill="#fff" stroke="#fff" stroke-width="0.2" text-anchor="middle">146</text>
</svg>
</body></html>
